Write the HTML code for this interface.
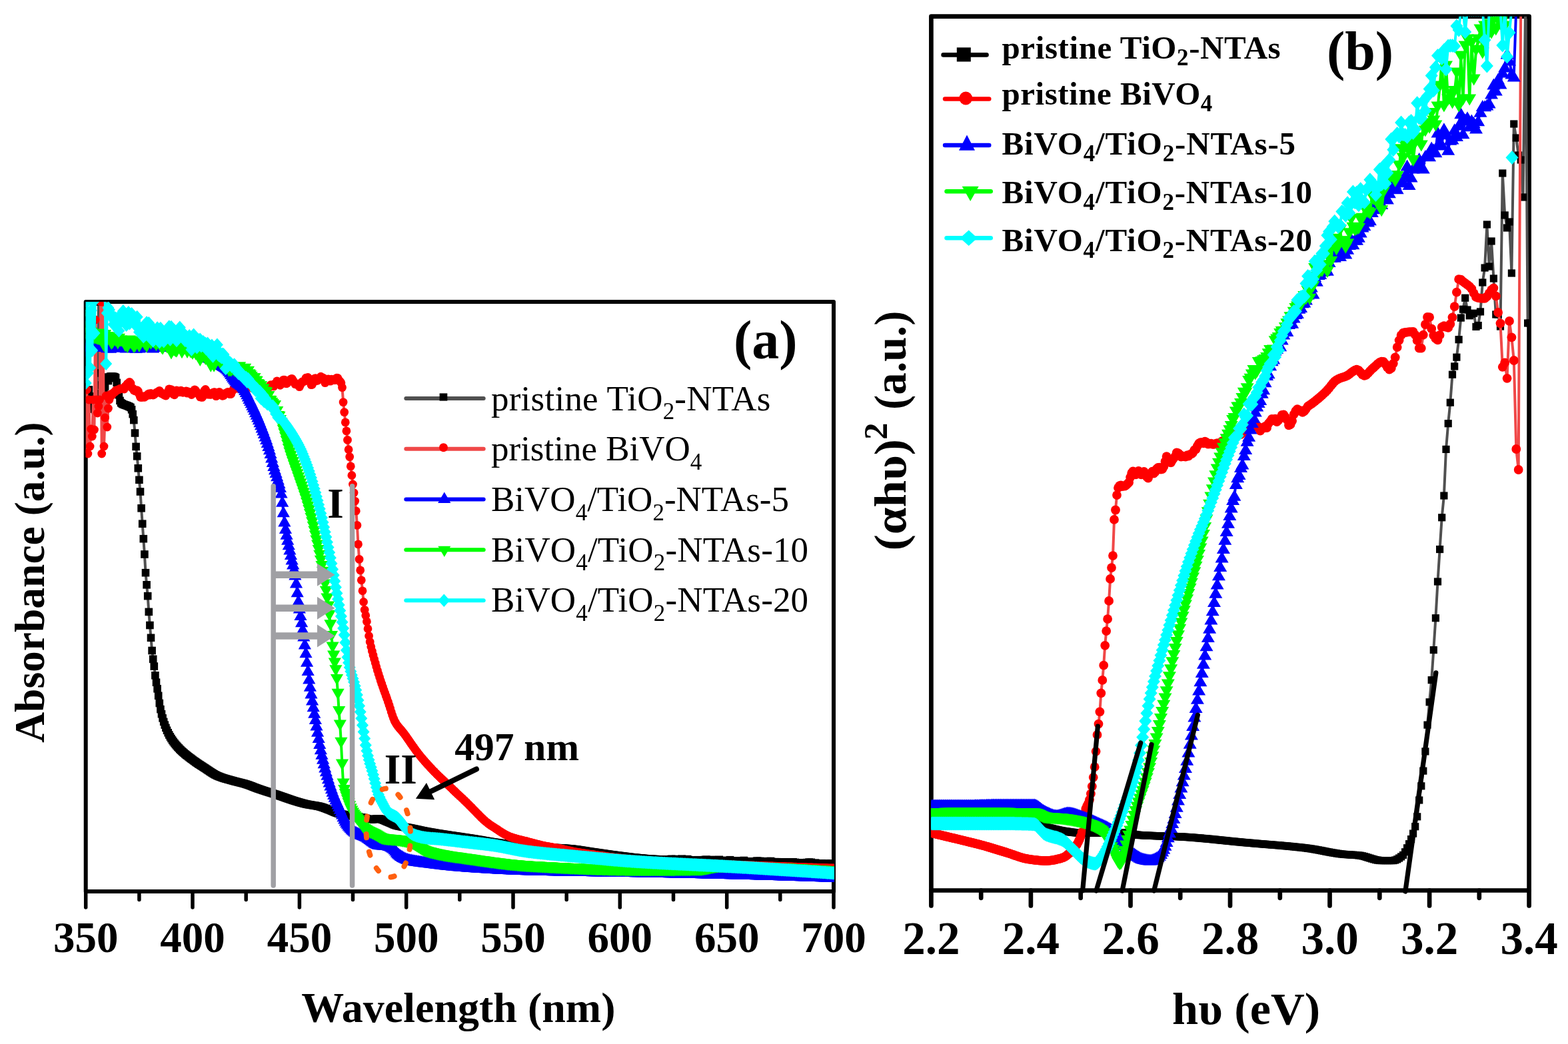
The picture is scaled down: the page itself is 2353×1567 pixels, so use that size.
<!DOCTYPE html>
<html><head><meta charset="utf-8"><title>UV-vis absorbance and Tauc plots</title>
<style>html,body{margin:0;padding:0;background:#fff;overflow:hidden}svg{display:block}
text{font-family:"Liberation Serif","Times New Roman",serif}</style></head>
<body><svg width="2353" height="1567" viewBox="0 0 2353 1567">
<defs><marker id="sqa" markerUnits="userSpaceOnUse" markerWidth="40" markerHeight="40" viewBox="-20 -20 40 40" refX="0" refY="0" overflow="visible"><rect x="-5.8" y="-5.8" width="11.6" height="11.6" fill="#000"/></marker><marker id="cia" markerUnits="userSpaceOnUse" markerWidth="40" markerHeight="40" viewBox="-20 -20 40 40" refX="0" refY="0" overflow="visible"><circle r="6.4" fill="#f00"/></marker><marker id="tua" markerUnits="userSpaceOnUse" markerWidth="40" markerHeight="40" viewBox="-20 -20 40 40" refX="0" refY="0" overflow="visible"><path d="M0-8.5L9.6 8.3H-9.6Z" fill="#00f"/></marker><marker id="tda" markerUnits="userSpaceOnUse" markerWidth="40" markerHeight="40" viewBox="-20 -20 40 40" refX="0" refY="0" overflow="visible"><path d="M0 8.5L9.6-8.3H-9.6Z" fill="#0f0"/></marker><marker id="dia" markerUnits="userSpaceOnUse" markerWidth="40" markerHeight="40" viewBox="-20 -20 40 40" refX="0" refY="0" overflow="visible"><path d="M0-10L9 0L0 10L-9 0Z" fill="#0ff"/></marker><marker id="sqb" markerUnits="userSpaceOnUse" markerWidth="40" markerHeight="40" viewBox="-20 -20 40 40" refX="0" refY="0" overflow="visible"><rect x="-5.6" y="-5.6" width="11.2" height="11.2" fill="#000"/></marker><marker id="cib" markerUnits="userSpaceOnUse" markerWidth="40" markerHeight="40" viewBox="-20 -20 40 40" refX="0" refY="0" overflow="visible"><circle r="6.9" fill="#f00"/></marker><marker id="tub" markerUnits="userSpaceOnUse" markerWidth="40" markerHeight="40" viewBox="-20 -20 40 40" refX="0" refY="0" overflow="visible"><path d="M0-8.5L10 8.5H-10Z" fill="#00f"/></marker><marker id="tdb" markerUnits="userSpaceOnUse" markerWidth="40" markerHeight="40" viewBox="-20 -20 40 40" refX="0" refY="0" overflow="visible"><path d="M0 8.5L10-8.5H-10Z" fill="#0f0"/></marker><marker id="dib" markerUnits="userSpaceOnUse" markerWidth="40" markerHeight="40" viewBox="-20 -20 40 40" refX="0" refY="0" overflow="visible"><path d="M0-10.5L9.5 0L0 10.5L-9.5 0Z" fill="#0ff"/></marker>
<clipPath id="ca"><rect x="128.7" y="453.0" width="1123.3" height="885.0"/></clipPath>
<clipPath id="cb"><rect x="1397.4" y="24.7" width="898.1999999999998" height="1311.8"/></clipPath>
</defs>
<rect width="2353" height="1567" fill="#fff"/>
<rect x="128.7" y="453.0" width="1122.3" height="885.0" fill="none" stroke="#000" stroke-width="6" stroke-linejoin="round"/>
<rect x="1397.4" y="24.7" width="897.1999999999998" height="1311.8" fill="none" stroke="#000" stroke-width="6.7" stroke-linejoin="round"/>
<path d="M128.7 1338.0V1362.0M208.9 1338.0V1350.5M289.0 1338.0V1362.0M369.2 1338.0V1350.5M449.4 1338.0V1362.0M529.5 1338.0V1350.5M609.7 1338.0V1362.0M689.8 1338.0V1350.5M770.0 1338.0V1362.0M850.2 1338.0V1350.5M930.3 1338.0V1362.0M1010.5 1338.0V1350.5M1090.7 1338.0V1362.0M1170.8 1338.0V1350.5M1251.0 1338.0V1362.0" stroke="#000" stroke-width="5.5" stroke-linecap="round" fill="none"/>
<path d="M1397.4 1336.5V1359.5M1472.2 1336.5V1347.8M1546.9 1336.5V1359.5M1621.7 1336.5V1347.8M1696.5 1336.5V1359.5M1771.2 1336.5V1347.8M1846.0 1336.5V1359.5M1920.8 1336.5V1347.8M1995.5 1336.5V1359.5M2070.3 1336.5V1347.8M2145.1 1336.5V1359.5M2219.8 1336.5V1347.8M2294.6 1336.5V1359.5" stroke="#000" stroke-width="6.7" stroke-linecap="round" fill="none"/>
<text x="128.7" y="1428.6" font-size="65" font-weight="bold" text-anchor="middle">350</text>
<text x="289.0" y="1428.6" font-size="65" font-weight="bold" text-anchor="middle">400</text>
<text x="449.4" y="1428.6" font-size="65" font-weight="bold" text-anchor="middle">450</text>
<text x="609.7" y="1428.6" font-size="65" font-weight="bold" text-anchor="middle">500</text>
<text x="770.0" y="1428.6" font-size="65" font-weight="bold" text-anchor="middle">550</text>
<text x="930.3" y="1428.6" font-size="65" font-weight="bold" text-anchor="middle">600</text>
<text x="1090.7" y="1428.6" font-size="65" font-weight="bold" text-anchor="middle">650</text>
<text x="1251.0" y="1428.6" font-size="65" font-weight="bold" text-anchor="middle">700</text>
<text x="1397.4" y="1432.3" font-size="69" font-weight="bold" text-anchor="middle">2.2</text>
<text x="1546.9" y="1432.3" font-size="69" font-weight="bold" text-anchor="middle">2.4</text>
<text x="1696.5" y="1432.3" font-size="69" font-weight="bold" text-anchor="middle">2.6</text>
<text x="1846.0" y="1432.3" font-size="69" font-weight="bold" text-anchor="middle">2.8</text>
<text x="1995.5" y="1432.3" font-size="69" font-weight="bold" text-anchor="middle">3.0</text>
<text x="2145.1" y="1432.3" font-size="69" font-weight="bold" text-anchor="middle">3.2</text>
<text x="2294.6" y="1432.3" font-size="69" font-weight="bold" text-anchor="middle">3.4</text>
<text x="687.9" y="1534" font-size="64" font-weight="bold" text-anchor="middle">Wavelength (nm)</text>
<text x="0" y="0" font-size="63.5" font-weight="bold" text-anchor="middle" transform="translate(65.5 874) rotate(-90)">Absorbance (a.u.)</text>
<text x="1870.1" y="1536.9" font-size="67" font-weight="bold" text-anchor="middle" textLength="222" lengthAdjust="spacingAndGlyphs">h&#965; (eV)</text>
<g transform="translate(1359.2 0) rotate(-90)"><text x="-826.5" y="0" font-size="67" font-weight="bold" text-anchor="start" textLength="167.5" lengthAdjust="spacingAndGlyphs">(&#945;h&#965;)</text><text x="-660" y="-28" font-size="51" font-weight="bold" text-anchor="start">2</text><text x="-615" y="0" font-size="67" font-weight="bold" text-anchor="start" textLength="148.5" lengthAdjust="spacingAndGlyphs">(a.u.)</text></g>
<text x="1148.7" y="538.4" font-size="82" font-weight="bold" text-anchor="middle">(a)</text>
<text x="2041" y="104.2" font-size="82" font-weight="bold" text-anchor="middle">(b)</text>
<g clip-path="url(#ca)"><polyline fill="none" stroke="#505050" stroke-width="4" stroke-linejoin="round" points="128.7,600 130.3,590 131.9,605 133.5,585 135.1,600 136.7,595 138.3,610 139.9,600 141.5,614 143.1,616 144.7,616 146.3,614 147.9,453 149.5,560 151.1,591 152.7,578 154.4,570 156,585 157.6,580 159.2,571 160.8,566 162.4,571.6 164,567.7 165.6,565.1 167.2,565 168.8,565.1 170.4,565.4 172,565.7 173.6,566.9 175.2,574.4 176.8,584 178.4,592.8 180,601.4 181.6,604.6 183.2,605.9 184.8,606.8 186.4,607.4 188,608 189.6,608.5 191.2,609.1 192.8,609.9 194.4,610.5 196,611.5 197.6,614.8 199.2,621.6 200.8,630.6 202.5,650 204.1,670.4 205.7,684.8 207.3,702.8 208.9,720.3 210.5,738 212.1,762.8 213.7,786.2 215.3,808.7 216.9,832 218.5,859.7 220.1,877.8 221.7,894.6 223.3,918.4 224.9,938.5 226.5,957.3 228.1,976.5 229.7,989.3 231.3,1000.1 232.9,1013.8 234.5,1024.2 236.1,1033.8 237.7,1044.3 239.3,1055.5 240.9,1064.6 242.5,1071.7 244.1,1077.9 245.7,1083.4 247.3,1088.1 248.9,1092.4 250.5,1096.3 252.2,1099.8 253.8,1103 255.4,1105.9 257,1108.5 258.6,1111 260.2,1113.3 261.8,1115.4 263.4,1117.4 265,1119.3 266.6,1121.1 268.2,1122.8 269.8,1124.5 271.4,1126.1 273,1127.6 274.6,1129 276.2,1130.4 277.8,1131.8 279.4,1133.1 281,1134.3 282.6,1135.6 284.2,1136.8 285.8,1138 287.4,1139.2 289,1140.4 290.6,1141.6 292.2,1142.7 293.8,1143.9 295.4,1145 297,1146.1 298.6,1147.2 300.3,1148.2 301.9,1149.3 303.5,1150.3 305.1,1151.4 306.7,1152.4 308.3,1153.4 309.9,1154.5 311.5,1155.6 313.1,1156.6 314.7,1157.7 316.3,1158.8 317.9,1159.8 319.5,1160.8 321.1,1161.8 322.7,1162.7 324.3,1163.5 325.9,1164.3 327.5,1165 329.1,1165.6 330.7,1166.2 332.3,1166.8 333.9,1167.4 335.5,1167.9 337.1,1168.4 338.7,1168.9 340.3,1169.3 341.9,1169.8 343.5,1170.2 345.1,1170.7 346.7,1171.1 348.4,1171.6 350,1172 351.6,1172.5 353.2,1172.9 354.8,1173.3 356.4,1173.7 358,1174.1 359.6,1174.5 361.2,1174.9 362.8,1175.3 364.4,1175.7 366,1176.1 367.6,1176.6 369.2,1177.1 370.8,1177.6 372.4,1178.1 374,1178.7 375.6,1179.3 377.2,1179.9 378.8,1180.5 380.4,1181.2 382,1181.8 383.6,1182.4 385.2,1183 386.8,1183.6 388.4,1184.1 390,1184.7 391.6,1185.2 393.2,1185.8 394.8,1186.3 396.4,1186.8 398.1,1187.4 399.7,1187.9 401.3,1188.4 402.9,1188.9 404.5,1189.4 406.1,1189.9 407.7,1190.4 409.3,1190.9 410.9,1191.5 412.5,1192 414.1,1192.5 415.7,1193 417.3,1193.6 418.9,1194.1 420.5,1194.7 422.1,1195.2 423.7,1195.8 425.3,1196.3 426.9,1196.9 428.5,1197.5 430.1,1198 431.7,1198.6 433.3,1199.1 434.9,1199.7 436.5,1200.2 438.1,1200.8 439.7,1201.3 441.3,1201.8 442.9,1202.3 444.5,1202.8 446.2,1203.3 447.8,1203.8 449.4,1204.3 451,1204.7 452.6,1205.2 454.2,1205.6 455.8,1206 457.4,1206.4 459,1206.8 460.6,1207.1 462.2,1207.5 463.8,1207.7 465.4,1208 467,1208.3 468.6,1208.5 470.2,1208.8 471.8,1209 473.4,1209.3 475,1209.6 476.6,1209.9 478.2,1210.2 479.8,1210.6 481.4,1211 483,1211.5 484.6,1212 486.2,1212.6 487.8,1213.2 489.4,1213.8 491,1214.4 492.6,1215 494.2,1215.6 495.9,1216.3 497.5,1217 499.1,1217.7 500.7,1218.4 502.3,1219.1 503.9,1219.7 505.5,1220.3 507.1,1220.8 508.7,1221.2 510.3,1221.5 511.9,1221.9 513.5,1222.2 515.1,1222.5 516.7,1222.8 518.3,1223.1 519.9,1223.4 521.5,1223.6 523.1,1223.9 524.7,1224.1 526.3,1224.4 527.9,1224.6 529.5,1224.9 531.1,1225.2 532.7,1225.5 534.3,1225.7 535.9,1225.9 537.5,1226.2 539.1,1226.4 540.7,1226.7 542.3,1226.9 544,1227.2 545.6,1227.5 547.2,1227.8 548.8,1228.2 550.4,1228.8 552,1229.4 553.6,1229.8 555.2,1230 556.8,1229.9 558.4,1229.8 560,1229.7 561.6,1229.5 563.2,1229.3 564.8,1229.2 566.4,1229 568,1229 569.6,1229.1 571.2,1229.4 572.8,1229.9 574.4,1230.5 576,1231.1 577.6,1231.8 579.2,1232.6 580.8,1233.2 582.4,1233.9 584,1234.5 585.6,1235.2 587.2,1235.9 588.8,1236.6 590.4,1237.4 592,1238 593.7,1238.6 595.3,1239.1 596.9,1239.5 598.5,1239.9 600.1,1240.2 601.7,1240.5 603.3,1240.8 604.9,1241.1 606.5,1241.4 608.1,1241.6 609.7,1241.9 611.3,1242.2 612.9,1242.4 614.5,1242.7 616.1,1243 617.7,1243.3 619.3,1243.7 620.9,1244 622.5,1244.3 624.1,1244.7 625.7,1245 627.3,1245.4 628.9,1245.7 630.5,1246.1 632.1,1246.4 633.7,1246.8 635.3,1247.1 636.9,1247.4 638.5,1247.7 640.1,1248 641.8,1248.3 643.4,1248.6 645,1248.9 646.6,1249.2 648.2,1249.4 649.8,1249.7 651.4,1250 653,1250.3 654.6,1250.5 656.2,1250.8 657.8,1251 659.4,1251.3 661,1251.5 662.6,1251.8 664.2,1252.1 665.8,1252.3 667.4,1252.5 669,1252.8 670.6,1253 672.2,1253.3 673.8,1253.5 675.4,1253.8 677,1254 678.6,1254.2 680.2,1254.5 681.8,1254.7 683.4,1254.9 685,1255.2 686.6,1255.4 688.2,1255.6 689.8,1255.9 691.5,1256.1 693.1,1256.4 694.7,1256.6 696.3,1256.8 697.9,1257.1 699.5,1257.3 701.1,1257.6 702.7,1257.8 704.3,1258 705.9,1258.3 707.5,1258.5 709.1,1258.8 710.7,1259 712.3,1259.3 713.9,1259.6 715.5,1259.8 717.1,1260.1 718.7,1260.4 720.3,1260.6 721.9,1260.9 723.5,1261.2 725.1,1261.5 726.7,1261.8 728.3,1262 729.9,1262.3 731.5,1262.6 733.1,1262.9 734.7,1263.2 736.3,1263.4 737.9,1263.7 739.6,1263.9 741.2,1264.2 742.8,1264.4 744.4,1264.6 746,1264.9 747.6,1265.1 749.2,1265.3 750.8,1265.5 752.4,1265.8 754,1266 755.6,1266.2 757.2,1266.4 758.8,1266.6 760.4,1266.8 762,1267 763.6,1267.2 765.2,1267.4 766.8,1267.6 768.4,1267.8 770,1268 771.6,1268.2 773.2,1268.4 774.8,1268.6 776.4,1268.8 778,1269 779.6,1269.2 781.2,1269.3 782.8,1269.5 784.4,1269.7 786,1269.9 787.7,1270 789.3,1270.2 790.9,1270.3 792.5,1270.5 794.1,1270.6 795.7,1270.7 797.3,1270.8 798.9,1270.9 800.5,1271 802.1,1271.1 803.7,1271.2 805.3,1271.3 806.9,1271.4 808.5,1271.4 810.1,1271.5 811.7,1271.6 813.3,1271.7 814.9,1271.7 816.5,1271.8 818.1,1271.9 819.7,1271.9 821.3,1272 822.9,1272.1 824.5,1272.2 826.1,1272.2 827.7,1272.3 829.3,1272.4 830.9,1272.4 832.5,1272.5 834.1,1272.6 835.7,1272.6 837.4,1272.7 839,1272.8 840.6,1272.9 842.2,1273 843.8,1273.1 845.4,1273.2 847,1273.3 848.6,1273.4 850.2,1273.5 851.8,1273.6 853.4,1273.8 855,1273.9 856.6,1274 858.2,1274.2 859.8,1274.4 861.4,1274.6 863,1274.8 864.6,1275 866.2,1275.2 867.8,1275.5 869.4,1275.7 871,1276 872.6,1276.2 874.2,1276.5 875.8,1276.7 877.4,1277 879,1277.2 880.6,1277.5 882.2,1277.7 883.8,1278 885.5,1278.2 887.1,1278.5 888.7,1278.7 890.3,1278.9 891.9,1279.1 893.5,1279.4 895.1,1279.6 896.7,1279.8 898.3,1280.1 899.9,1280.3 901.5,1280.5 903.1,1280.8 904.7,1281 906.3,1281.2 907.9,1281.5 909.5,1281.7 911.1,1281.9 912.7,1282.1 914.3,1282.4 915.9,1282.6 917.5,1282.8 919.1,1283 920.7,1283.2 922.3,1283.4 923.9,1283.7 925.5,1283.9 927.1,1284.1 928.7,1284.3 930.3,1284.5 931.9,1284.7 933.5,1284.9 935.2,1285.1 936.8,1285.3 938.4,1285.5 940,1285.7 941.6,1285.9 943.2,1286.1 944.8,1286.3 946.4,1286.5 948,1286.7 949.6,1286.8 951.2,1287 952.8,1287.2 954.4,1287.3 956,1287.5 957.6,1287.7 959.2,1287.8 960.8,1288 962.4,1288.1 964,1288.3 965.6,1288.4 967.2,1288.6 968.8,1288.7 970.4,1288.9 972,1289 973.6,1289.1 975.2,1289.2 976.8,1289.3 978.4,1289.4 980,1289.5 981.6,1289.6 983.3,1289.6 984.9,1289.7 986.5,1289.8 988.1,1289.8 989.7,1289.9 991.3,1289.9 992.9,1290 994.5,1290 996.1,1290.1 997.7,1290.1 999.3,1290.2 1000.9,1289.8 1002.5,1291 1004.1,1290.7 1005.7,1290.5 1007.3,1289.4 1008.9,1289.6 1010.5,1290.4 1012.1,1290.5 1013.7,1289.5 1015.3,1291.9 1016.9,1290.7 1018.5,1290.5 1020.1,1291.1 1021.7,1290.1 1023.3,1289.2 1024.9,1290.6 1026.5,1290.2 1028.1,1290.8 1029.7,1291 1031.3,1289.6 1033,1290.3 1034.6,1291.6 1036.2,1292.1 1037.8,1290.9 1039.4,1291.1 1041,1291.3 1042.6,1291.3 1044.2,1292.7 1045.8,1292.5 1047.4,1290.7 1049,1291 1050.6,1292.2 1052.2,1291.8 1053.8,1292.1 1055.4,1291.9 1057,1290.7 1058.6,1290.4 1060.2,1290.3 1061.8,1291 1063.4,1291.9 1065,1291.1 1066.6,1293.2 1068.2,1290.4 1069.8,1291.5 1071.4,1292.5 1073,1293.2 1074.6,1291 1076.2,1292.1 1077.8,1292.4 1079.4,1290.3 1081.1,1292.6 1082.7,1292.1 1084.3,1291.7 1085.9,1292.8 1087.5,1292.2 1089.1,1291.5 1090.7,1293.3 1092.3,1291.7 1093.9,1293.3 1095.5,1290.7 1097.1,1293.1 1098.7,1292.1 1100.3,1292.7 1101.9,1292.6 1103.5,1293.3 1105.1,1291.9 1106.7,1292.4 1108.3,1292.4 1109.9,1293.1 1111.5,1292.7 1113.1,1293 1114.7,1293.1 1116.3,1291.5 1117.9,1292.7 1119.5,1293 1121.1,1293.2 1122.7,1294.6 1124.3,1293.7 1125.9,1294.2 1127.5,1292.8 1129.2,1293.9 1130.8,1294.7 1132.4,1293 1134,1292.9 1135.6,1292.2 1137.2,1292.4 1138.8,1294.8 1140.4,1292.4 1142,1293.5 1143.6,1294.2 1145.2,1293.8 1146.8,1293.9 1148.4,1293.7 1150,1294.6 1151.6,1292.7 1153.2,1293.6 1154.8,1293.9 1156.4,1292.5 1158,1293.5 1159.6,1293.9 1161.2,1295.3 1162.8,1293.7 1164.4,1295.2 1166,1293.7 1167.6,1295.7 1169.2,1294 1170.8,1295.3 1172.4,1296 1174,1295.3 1175.6,1295.7 1177.2,1293.8 1178.9,1295.1 1180.5,1295.3 1182.1,1294.6 1183.7,1295 1185.3,1294 1186.9,1294.5 1188.5,1294 1190.1,1293.8 1191.7,1295.6 1193.3,1294.4 1194.9,1295.4 1196.5,1296.7 1198.1,1296.1 1199.7,1294.8 1201.3,1295.1 1202.9,1294.9 1204.5,1295.4 1206.1,1296.9 1207.7,1296.9 1209.3,1295.2 1210.9,1294.6 1212.5,1296.6 1214.1,1294.1 1215.7,1296.3 1217.3,1294.3 1218.9,1296.2 1220.5,1296.1 1222.1,1295.7 1223.7,1295.2 1225.3,1296.6 1227,1296.5 1228.6,1296.4 1230.2,1297.9 1231.8,1296.2 1233.4,1296 1235,1297.6 1236.6,1298.1 1238.2,1296.1 1239.8,1296.5 1241.4,1296.3 1243,1297 1244.6,1297.4 1246.2,1296.3 1247.8,1296.7 1249.4,1296.2 1251,1297.2" marker-start="url(#sqa)" marker-mid="url(#sqa)" marker-end="url(#sqa)"/>
<polyline fill="none" stroke="#f04848" stroke-width="4" stroke-linejoin="round" points="128.7,680 130.3,585 131.9,681 133.5,600 135.1,670 136.7,644 138.3,655 139.9,600 141.5,645 143.1,480 144.7,600 146.3,620 147.9,610 149.5,600 151.1,453 152.7,681 154.4,453 156,670 157.6,627 159.2,594 160.8,641 162.4,613 164,600 165.6,592 167.2,593.8 168.8,591.9 170.4,589.3 172,588.6 173.6,586 175.2,586.3 176.8,585 178.4,584.8 180,583.5 181.6,583.5 183.2,582.8 184.8,582.9 186.4,584 188,579.7 189.6,580 191.2,576 192.8,575.8 194.4,573.4 196,575.3 197.6,581.6 199.2,582.8 200.8,585.9 202.5,586.7 204.1,587.3 205.7,585.6 207.3,587 208.9,591.7 210.5,596.1 212.1,596.4 213.7,596.2 215.3,594.9 216.9,596.3 218.5,594.3 220.1,593.9 221.7,592.4 223.3,590.9 224.9,593 226.5,590.5 228.1,592.5 229.7,593 231.3,592.2 232.9,590.8 234.5,589.4 236.1,588.5 237.7,588.3 239.3,586.3 240.9,588.9 242.5,590.8 244.1,590.7 245.7,592.4 247.3,593.3 248.9,594 250.5,590.7 252.2,587.9 253.8,583.8 255.4,586.4 257,584.6 258.6,589.5 260.2,591.6 261.8,592.8 263.4,590 265,585.8 266.6,588.9 268.2,588.4 269.8,588.7 271.4,586.2 273,587 274.6,589.3 276.2,588.3 277.8,588.8 279.4,586.9 281,590.1 282.6,587.8 284.2,589.3 285.8,588.7 287.4,592.5 289,590.9 290.6,587.4 292.2,584.9 293.8,586.4 295.4,589.4 297,590.6 298.6,592.4 300.3,595.9 301.9,596 303.5,596.4 305.1,589.5 306.7,586.2 308.3,584.5 309.9,587.6 311.5,592.2 313.1,591.7 314.7,592.1 316.3,592.3 317.9,591.8 319.5,589.4 321.1,588.7 322.7,588.8 324.3,594.7 325.9,592.4 327.5,592.2 329.1,588.3 330.7,590 332.3,592.9 333.9,594.3 335.5,593.6 337.1,590.7 338.7,591 340.3,589.6 341.9,588.4 343.5,589.1 345.1,591.7 346.7,591.4 348.4,587.2 350,584.8 351.6,581.2 353.2,582.3 354.8,581.7 356.4,583.1 358,578 359.6,575.2 361.2,575.4 362.8,578.1 364.4,578.6 366,578.7 367.6,580.1 369.2,580 370.8,578.4 372.4,575.5 374,574.9 375.6,577.4 377.2,580 378.8,582.8 380.4,579.5 382,576.9 383.6,576.3 385.2,577.7 386.8,579.8 388.4,578.8 390,580.7 391.6,583.7 393.2,587.7 394.8,589.4 396.4,586.5 398.1,585.4 399.7,582 401.3,583.5 402.9,581.3 404.5,580.9 406.1,577.7 407.7,578.9 409.3,579.4 410.9,579.9 412.5,575.9 414.1,575 415.7,571.8 417.3,576.2 418.9,575.6 420.5,578.3 422.1,575.5 423.7,572.9 425.3,570.1 426.9,570.1 428.5,575.4 430.1,575.8 431.7,574.5 433.3,571.8 434.9,570.8 436.5,569 438.1,568.3 439.7,571.1 441.3,573.3 442.9,576.6 444.5,576.4 446.2,577.6 447.8,577.6 449.4,580.7 451,577.2 452.6,573.7 454.2,572.6 455.8,572.8 457.4,571.7 459,567.2 460.6,567.1 462.2,566.5 463.8,568.9 465.4,573.2 467,577.6 468.6,577.1 470.2,571.3 471.8,568.4 473.4,567.6 475,571.5 476.6,571.2 478.2,568.5 479.8,568.5 481.4,565.2 483,567 484.6,566.8 486.2,570.8 487.8,574.6 489.4,570.6 491,570.5 492.6,568.9 494.2,571.8 495.9,572.2 497.5,569.1 499.1,570.7 500.7,570.5 502.3,570.7 503.9,568.4 505.5,567.1 507.1,567.7 508.7,571.1 510.3,572.3 511.9,574.8 513.5,581.6 515.1,603.6 516.7,618.6 518.3,633.9 519.9,646.9 521.5,660.4 523.1,674.7 524.7,685.6 526.3,699.9 527.9,713.5 529.5,727 531.1,739.6 532.7,752.1 534.3,766.9 535.9,788.4 537.5,816.9 539.1,839.4 540.7,855.9 542.3,870.8 544,886.8 545.6,903.5 547.2,915.3 548.8,923.8 550.4,932.9 552,943.7 553.6,954.5 555.2,963.4 556.8,970.7 558.4,977.3 560,983.4 561.6,989.3 563.2,995.1 564.8,1000.8 566.4,1006.2 568,1011.5 569.6,1016.6 571.2,1021.6 572.8,1026.4 574.4,1031.1 576,1035.6 577.6,1040 579.2,1044.4 580.8,1048.9 582.4,1053.4 584,1058.2 585.6,1063.3 587.2,1068.5 588.8,1073.5 590.4,1078 592,1081.9 593.7,1084.9 595.3,1087.5 596.9,1089.7 598.5,1091.7 600.1,1093.6 601.7,1095.4 603.3,1097.2 604.9,1099.2 606.5,1101.3 608.1,1103.5 609.7,1105.8 611.3,1108 612.9,1110.3 614.5,1112.6 616.1,1115 617.7,1117.3 619.3,1119.6 620.9,1121.8 622.5,1124.1 624.1,1126.3 625.7,1128.4 627.3,1130.5 628.9,1132.5 630.5,1134.5 632.1,1136.5 633.7,1138.4 635.3,1140.3 636.9,1142.1 638.5,1144 640.1,1145.8 641.8,1147.6 643.4,1149.3 645,1151.1 646.6,1152.8 648.2,1154.5 649.8,1156.2 651.4,1157.9 653,1159.5 654.6,1161.1 656.2,1162.7 657.8,1164.3 659.4,1165.8 661,1167.4 662.6,1168.9 664.2,1170.4 665.8,1171.9 667.4,1173.4 669,1174.9 670.6,1176.4 672.2,1177.9 673.8,1179.4 675.4,1181 677,1182.5 678.6,1184 680.2,1185.6 681.8,1187.1 683.4,1188.6 685,1190.2 686.6,1191.7 688.2,1193.2 689.8,1194.7 691.5,1196.3 693.1,1197.8 694.7,1199.3 696.3,1200.9 697.9,1202.4 699.5,1203.9 701.1,1205.5 702.7,1207 704.3,1208.6 705.9,1210.2 707.5,1211.9 709.1,1213.5 710.7,1215.2 712.3,1216.8 713.9,1218.5 715.5,1220.1 717.1,1221.8 718.7,1223.4 720.3,1225 721.9,1226.6 723.5,1228.1 725.1,1229.6 726.7,1231.1 728.3,1232.5 729.9,1233.8 731.5,1235.1 733.1,1236.4 734.7,1237.5 736.3,1238.6 737.9,1239.7 739.6,1240.7 741.2,1241.7 742.8,1242.8 744.4,1243.9 746,1244.9 747.6,1246 749.2,1247.1 750.8,1248.1 752.4,1249.1 754,1250.1 755.6,1251.1 757.2,1252 758.8,1252.9 760.4,1253.7 762,1254.5 763.6,1255.2 765.2,1255.9 766.8,1256.5 768.4,1257 770,1257.6 771.6,1258 773.2,1258.5 774.8,1259 776.4,1259.4 778,1259.8 779.6,1260.2 781.2,1260.6 782.8,1261 784.4,1261.4 786,1261.8 787.7,1262.1 789.3,1262.5 790.9,1263 792.5,1263.4 794.1,1263.8 795.7,1264.3 797.3,1264.7 798.9,1265.1 800.5,1265.6 802.1,1266 803.7,1266.4 805.3,1266.8 806.9,1267.2 808.5,1267.6 810.1,1268 811.7,1268.4 813.3,1268.8 814.9,1269.2 816.5,1269.5 818.1,1269.8 819.7,1270.1 821.3,1270.4 822.9,1270.7 824.5,1271 826.1,1271.3 827.7,1271.5 829.3,1271.8 830.9,1272.1 832.5,1272.3 834.1,1272.6 835.7,1272.9 837.4,1273.1 839,1273.4 840.6,1273.7 842.2,1274 843.8,1274.4 845.4,1274.7 847,1275.1 848.6,1275.4 850.2,1275.8 851.8,1276.2 853.4,1276.6 855,1277 856.6,1277.3 858.2,1277.6 859.8,1278 861.4,1278.3 863,1278.6 864.6,1278.8 866.2,1279.1 867.8,1279.4 869.4,1279.6 871,1279.9 872.6,1280.2 874.2,1280.4 875.8,1280.7 877.4,1280.9 879,1281.1 880.6,1281.4 882.2,1281.6 883.8,1281.8 885.5,1282.1 887.1,1282.3 888.7,1282.5 890.3,1282.7 891.9,1283 893.5,1283.2 895.1,1283.4 896.7,1283.7 898.3,1283.9 899.9,1284.1 901.5,1284.3 903.1,1284.5 904.7,1284.8 906.3,1285 907.9,1285.2 909.5,1285.4 911.1,1285.6 912.7,1285.9 914.3,1286.1 915.9,1286.3 917.5,1286.5 919.1,1286.7 920.7,1286.9 922.3,1287.1 923.9,1287.3 925.5,1287.5 927.1,1287.7 928.7,1287.9 930.3,1288 931.9,1288.2 933.5,1288.4 935.2,1288.6 936.8,1288.7 938.4,1288.9 940,1289.1 941.6,1289.2 943.2,1289.4 944.8,1289.5 946.4,1289.7 948,1289.8 949.6,1290 951.2,1290.1 952.8,1290.2 954.4,1290.4 956,1290.5 957.6,1290.6 959.2,1290.7 960.8,1290.9 962.4,1291 964,1291.1 965.6,1291.2 967.2,1291.3 968.8,1291.5 970.4,1291.6 972,1291.7 973.6,1291.8 975.2,1291.9 976.8,1292 978.4,1292.1 980,1292.2 981.6,1292.3 983.3,1292.4 984.9,1292.5 986.5,1292.6 988.1,1292.7 989.7,1292.8 991.3,1292.9 992.9,1293 994.5,1293.1 996.1,1293.2 997.7,1293.3 999.3,1293.4 1000.9,1293.5 1002.5,1293.6 1004.1,1293.7 1005.7,1293.8 1007.3,1293.8 1008.9,1293.9 1010.5,1294 1012.1,1294.1 1013.7,1294.2 1015.3,1294.3 1016.9,1294.4 1018.5,1294.4 1020.1,1294.5 1021.7,1294.6 1023.3,1294.7 1024.9,1294.8 1026.5,1294.8 1028.1,1294.9 1029.7,1295 1031.3,1295.1 1033,1295.2 1034.6,1295.2 1036.2,1295.3 1037.8,1295.4 1039.4,1295.5 1041,1295.5 1042.6,1295.6 1044.2,1295.7 1045.8,1295.8 1047.4,1295.8 1049,1295.9 1050.6,1296 1052.2,1296.1 1053.8,1296.1 1055.4,1296.2 1057,1296.3 1058.6,1296.3 1060.2,1296.4 1061.8,1296.5 1063.4,1296.5 1065,1296.6 1066.6,1296.7 1068.2,1296.7 1069.8,1296.8 1071.4,1296.9 1073,1296.9 1074.6,1297 1076.2,1297 1077.8,1297.1 1079.4,1297.2 1081.1,1297.2 1082.7,1297.3 1084.3,1297.4 1085.9,1297.4 1087.5,1297.5 1089.1,1297.5 1090.7,1297.6 1092.3,1297.7 1093.9,1297.7 1095.5,1297.8 1097.1,1297.8 1098.7,1297.9 1100.3,1297.9 1101.9,1298 1103.5,1298.1 1105.1,1298.1 1106.7,1298.2 1108.3,1298.2 1109.9,1298.3 1111.5,1298.3 1113.1,1298.4 1114.7,1298.5 1116.3,1298.5 1117.9,1298.6 1119.5,1298.6 1121.1,1298.7 1122.7,1298.7 1124.3,1298.8 1125.9,1298.9 1127.5,1298.9 1129.2,1299 1130.8,1299 1132.4,1299.1 1134,1299.1 1135.6,1299.2 1137.2,1299.3 1138.8,1299.3 1140.4,1299.4 1142,1299.4 1143.6,1299.5 1145.2,1299.5 1146.8,1299.6 1148.4,1299.7 1150,1299.7 1151.6,1299.8 1153.2,1299.8 1154.8,1299.9 1156.4,1299.9 1158,1300 1159.6,1300 1161.2,1300.1 1162.8,1300.2 1164.4,1300.2 1166,1300.3 1167.6,1300.3 1169.2,1300.4 1170.8,1300.4 1172.4,1300.5 1174,1300.5 1175.6,1300.6 1177.2,1300.6 1178.9,1300.7 1180.5,1300.8 1182.1,1300.8 1183.7,1300.9 1185.3,1300.9 1186.9,1301 1188.5,1301 1190.1,1301.1 1191.7,1301.1 1193.3,1301.2 1194.9,1301.2 1196.5,1301.3 1198.1,1301.3 1199.7,1301.4 1201.3,1301.4 1202.9,1301.5 1204.5,1301.6 1206.1,1301.6 1207.7,1301.7 1209.3,1301.7 1210.9,1301.8 1212.5,1301.8 1214.1,1301.9 1215.7,1301.9 1217.3,1302 1218.9,1302 1220.5,1302.1 1222.1,1302.1 1223.7,1302.2 1225.3,1302.2 1227,1302.3 1228.6,1302.3 1230.2,1302.4 1231.8,1302.4 1233.4,1302.5 1235,1302.5 1236.6,1302.6 1238.2,1302.6 1239.8,1302.7 1241.4,1302.7 1243,1302.8 1244.6,1302.8 1246.2,1302.9 1247.8,1302.9 1249.4,1303 1251,1303" marker-start="url(#cia)" marker-mid="url(#cia)" marker-end="url(#cia)"/>
<polyline fill="none" stroke="#00f" stroke-width="4" stroke-linejoin="round" points="128.7,527 130.3,520 131.9,480 133.5,470 135.1,478 136.7,500 138.3,510 139.9,515 141.5,519 143.1,519 144.7,519 146.3,519 147.9,519 149.5,519 151.1,518.7 152.7,517.3 154.4,519.7 156,519.1 157.6,519.3 159.2,517.2 160.8,521 162.4,519.2 164,518.5 165.6,521.4 167.2,518.9 168.8,517.3 170.4,518.5 172,516.6 173.6,520.3 175.2,518.5 176.8,518.1 178.4,520.3 180,517 181.6,519.6 183.2,516.6 184.8,518.2 186.4,517.6 188,520.8 189.6,521.1 191.2,518.6 192.8,520 194.4,518.8 196,519.7 197.6,518.1 199.2,516.9 200.8,516.8 202.5,519.5 204.1,521.4 205.7,519.3 207.3,518.4 208.9,521.3 210.5,519.3 212.1,519.1 213.7,519.3 215.3,518.8 216.9,518.6 218.5,517.3 220.1,519.6 221.7,518.9 223.3,520.4 224.9,518.6 226.5,516.7 228.1,518.9 229.7,521.1 231.3,519 232.9,519 234.5,519.1 236.1,519.1 237.7,519.1 239.3,519.1 240.9,519.2 242.5,519.2 244.1,519.2 245.7,519.3 247.3,519.3 248.9,519.4 250.5,519.4 252.2,519.5 253.8,519.5 255.4,519.6 257,519.7 258.6,519.7 260.2,519.8 261.8,519.9 263.4,519.9 265,520 266.6,520.1 268.2,520.2 269.8,520.3 271.4,520.5 273,520.7 274.6,520.9 276.2,521.2 277.8,521.4 279.4,521.7 281,522 282.6,522.3 284.2,522.7 285.8,523 287.4,523.4 289,523.8 290.6,524.2 292.2,524.6 293.8,525.2 295.4,525.8 297,526.5 298.6,527.3 300.3,528.1 301.9,529 303.5,529.9 305.1,530.8 306.7,531.8 308.3,532.8 309.9,533.8 311.5,534.8 313.1,535.8 314.7,536.8 316.3,537.8 317.9,538.8 319.5,539.7 321.1,540.6 322.7,541.5 324.3,542.3 325.9,543.1 327.5,544 329.1,544.8 330.7,545.7 332.3,546.6 333.9,547.6 335.5,548.6 337.1,549.8 338.7,551 340.3,552.3 341.9,553.9 343.5,556 345.1,558.2 346.7,560.7 348.4,563.2 350,565.6 351.6,567.9 353.2,570 354.8,571.8 356.4,573.1 358,574.2 359.6,575.3 361.2,576.4 362.8,577.8 364.4,579.6 366,582 367.6,584.8 369.2,587.8 370.8,591 372.4,594.3 374,597.6 375.6,600.8 377.2,604 378.8,607.4 380.4,610.8 382,614.3 383.6,617.9 385.2,621.5 386.8,625.2 388.4,629 390,633 391.6,637 393.2,641.1 394.8,645.3 396.4,649.7 398.1,654.2 399.7,658.8 401.3,663.6 402.9,668.6 404.5,673.9 406.1,679.7 407.7,686.1 409.3,692.6 410.9,698.6 412.5,703.9 414.1,708.8 415.7,713.9 417.3,719.3 418.9,724.6 420.5,730.8 422.1,739.2 423.7,752.4 425.3,767.9 426.9,782.1 428.5,792.6 430.1,801.5 431.7,809.5 433.3,816.9 434.9,824.2 436.5,831.7 438.1,839.1 439.7,846.1 441.3,853.5 442.9,862.3 444.5,874.1 446.2,888 447.8,900.9 449.4,912.1 451,922.7 452.6,933 454.2,943.5 455.8,954.3 457.4,966.1 459,979 460.6,992.5 462.2,1005.8 463.8,1018.3 465.4,1029.5 467,1040.1 468.6,1050.2 470.2,1060 471.8,1069.5 473.4,1078.8 475,1088.1 476.6,1097.5 478.2,1106.7 479.8,1115.6 481.4,1123.9 483,1131.5 484.6,1138.4 486.2,1145 487.8,1151.1 489.4,1156.9 491,1162.5 492.6,1168 494.2,1173.2 495.9,1178.2 497.5,1183 499.1,1187.5 500.7,1191.7 502.3,1195.5 503.9,1199.1 505.5,1202.6 507.1,1206.1 508.7,1209.7 510.3,1213.5 511.9,1217.4 513.5,1221.2 515.1,1224.9 516.7,1228.3 518.3,1231.3 519.9,1233.9 521.5,1236 523.1,1238.1 524.7,1240 526.3,1241.8 527.9,1243.4 529.5,1244.9 531.1,1246.3 532.7,1247.4 534.3,1248.5 535.9,1249.3 537.5,1250 539.1,1250.7 540.7,1251.3 542.3,1251.8 544,1252.4 545.6,1252.9 547.2,1253.6 548.8,1254.4 550.4,1255.3 552,1256.4 553.6,1257.5 555.2,1258.7 556.8,1259.9 558.4,1261.2 560,1262.3 561.6,1263.4 563.2,1264.4 564.8,1265.3 566.4,1266 568,1266.4 569.6,1266.7 571.2,1266.9 572.8,1267 574.4,1267.2 576,1267.3 577.6,1267.4 579.2,1267.6 580.8,1267.8 582.4,1268.1 584,1268.6 585.6,1269.3 587.2,1270.2 588.8,1271.2 590.4,1272.3 592,1274 593.7,1276 595.3,1278.1 596.9,1280 598.5,1281.3 600.1,1282.5 601.7,1283.6 603.3,1284.6 604.9,1285.6 606.5,1286.4 608.1,1287.2 609.7,1287.9 611.3,1288.5 612.9,1289 614.5,1289.4 616.1,1289.8 617.7,1290.1 619.3,1290.5 620.9,1290.8 622.5,1291.1 624.1,1291.3 625.7,1291.6 627.3,1291.8 628.9,1292.1 630.5,1292.3 632.1,1292.5 633.7,1292.7 635.3,1292.9 636.9,1293.1 638.5,1293.3 640.1,1293.5 641.8,1293.7 643.4,1293.9 645,1294.1 646.6,1294.3 648.2,1294.5 649.8,1294.7 651.4,1295 653,1295.2 654.6,1295.4 656.2,1295.6 657.8,1295.8 659.4,1295.9 661,1296.1 662.6,1296.3 664.2,1296.5 665.8,1296.7 667.4,1296.9 669,1297.1 670.6,1297.3 672.2,1297.4 673.8,1297.6 675.4,1297.8 677,1297.9 678.6,1298.1 680.2,1298.3 681.8,1298.4 683.4,1298.6 685,1298.7 686.6,1298.9 688.2,1299 689.8,1299.2 691.5,1299.3 693.1,1299.5 694.7,1299.6 696.3,1299.7 697.9,1299.8 699.5,1300 701.1,1300.1 702.7,1300.2 704.3,1300.3 705.9,1300.4 707.5,1300.5 709.1,1300.7 710.7,1300.8 712.3,1300.9 713.9,1301 715.5,1301.1 717.1,1301.2 718.7,1301.3 720.3,1301.4 721.9,1301.5 723.5,1301.6 725.1,1301.7 726.7,1301.8 728.3,1301.9 729.9,1302 731.5,1302.1 733.1,1302.2 734.7,1302.3 736.3,1302.4 737.9,1302.5 739.6,1302.6 741.2,1302.7 742.8,1302.8 744.4,1302.9 746,1303 747.6,1303.1 749.2,1303.2 750.8,1303.3 752.4,1303.3 754,1303.4 755.6,1303.5 757.2,1303.6 758.8,1303.7 760.4,1303.7 762,1303.8 763.6,1303.9 765.2,1304 766.8,1304 768.4,1304.1 770,1304.2 771.6,1304.2 773.2,1304.3 774.8,1304.4 776.4,1304.4 778,1304.5 779.6,1304.6 781.2,1304.6 782.8,1304.7 784.4,1304.7 786,1304.8 787.7,1304.8 789.3,1304.9 790.9,1304.9 792.5,1305 794.1,1305 795.7,1305.1 797.3,1305.1 798.9,1305.2 800.5,1305.2 802.1,1305.2 803.7,1305.3 805.3,1305.3 806.9,1305.4 808.5,1305.4 810.1,1305.4 811.7,1305.5 813.3,1305.5 814.9,1305.6 816.5,1305.6 818.1,1305.6 819.7,1305.7 821.3,1305.7 822.9,1305.7 824.5,1305.8 826.1,1305.8 827.7,1305.8 829.3,1305.9 830.9,1305.9 832.5,1305.9 834.1,1306 835.7,1306 837.4,1306 839,1306.1 840.6,1306.1 842.2,1306.1 843.8,1306.1 845.4,1306.2 847,1306.2 848.6,1306.2 850.2,1306.3 851.8,1306.3 853.4,1306.3 855,1306.3 856.6,1306.4 858.2,1306.4 859.8,1306.4 861.4,1306.4 863,1306.5 864.6,1306.5 866.2,1306.5 867.8,1306.5 869.4,1306.6 871,1306.6 872.6,1306.6 874.2,1306.6 875.8,1306.7 877.4,1306.7 879,1306.7 880.6,1306.7 882.2,1306.8 883.8,1306.8 885.5,1306.8 887.1,1306.8 888.7,1306.9 890.3,1306.9 891.9,1306.9 893.5,1306.9 895.1,1307 896.7,1307 898.3,1307 899.9,1307 901.5,1307 903.1,1307.1 904.7,1307.1 906.3,1307.1 907.9,1307.1 909.5,1307.2 911.1,1307.2 912.7,1307.2 914.3,1307.2 915.9,1307.3 917.5,1307.3 919.1,1307.3 920.7,1307.3 922.3,1307.4 923.9,1307.4 925.5,1307.4 927.1,1307.4 928.7,1307.5 930.3,1307.5 931.9,1307.5 933.5,1307.5 935.2,1307.6 936.8,1307.6 938.4,1307.6 940,1307.6 941.6,1307.7 943.2,1307.7 944.8,1307.7 946.4,1307.7 948,1307.8 949.6,1307.8 951.2,1307.8 952.8,1307.9 954.4,1307.9 956,1307.9 957.6,1308 959.2,1308 960.8,1308 962.4,1308 964,1308.1 965.6,1308.1 967.2,1308.1 968.8,1308.2 970.4,1308.2 972,1308.2 973.6,1308.3 975.2,1308.3 976.8,1308.3 978.4,1308.4 980,1308.4 981.6,1308.4 983.3,1308.5 984.9,1308.5 986.5,1308.5 988.1,1308.6 989.7,1308.6 991.3,1308.6 992.9,1308.6 994.5,1308.7 996.1,1308.7 997.7,1308.7 999.3,1308.8 1000.9,1308.8 1002.5,1308.8 1004.1,1308.9 1005.7,1308.9 1007.3,1308.9 1008.9,1309 1010.5,1309 1012.1,1309 1013.7,1309.1 1015.3,1309.1 1016.9,1309.1 1018.5,1309.2 1020.1,1309.2 1021.7,1309.2 1023.3,1309.3 1024.9,1309.3 1026.5,1309.3 1028.1,1309.4 1029.7,1309.4 1031.3,1309.4 1033,1309.5 1034.6,1309.5 1036.2,1309.5 1037.8,1309.6 1039.4,1309.6 1041,1309.6 1042.6,1309.7 1044.2,1309.7 1045.8,1309.7 1047.4,1309.8 1049,1309.8 1050.6,1309.8 1052.2,1309.9 1053.8,1309.9 1055.4,1310 1057,1310 1058.6,1310 1060.2,1310.1 1061.8,1310.1 1063.4,1310.1 1065,1310.2 1066.6,1310.2 1068.2,1310.2 1069.8,1310.3 1071.4,1310.3 1073,1310.4 1074.6,1310.4 1076.2,1310.4 1077.8,1310.5 1079.4,1310.5 1081.1,1310.5 1082.7,1310.6 1084.3,1310.6 1085.9,1310.7 1087.5,1310.7 1089.1,1310.7 1090.7,1310.8 1092.3,1310.8 1093.9,1310.8 1095.5,1310.9 1097.1,1310.9 1098.7,1311 1100.3,1311 1101.9,1311 1103.5,1311.1 1105.1,1311.1 1106.7,1311.2 1108.3,1311.2 1109.9,1311.3 1111.5,1311.3 1113.1,1311.3 1114.7,1311.4 1116.3,1311.4 1117.9,1311.5 1119.5,1311.5 1121.1,1311.5 1122.7,1311.6 1124.3,1311.6 1125.9,1311.7 1127.5,1311.7 1129.2,1311.8 1130.8,1311.8 1132.4,1311.8 1134,1311.9 1135.6,1311.9 1137.2,1312 1138.8,1312 1140.4,1312.1 1142,1312.1 1143.6,1312.2 1145.2,1312.2 1146.8,1312.2 1148.4,1312.3 1150,1312.3 1151.6,1312.4 1153.2,1312.4 1154.8,1312.5 1156.4,1312.5 1158,1312.6 1159.6,1312.6 1161.2,1312.7 1162.8,1312.7 1164.4,1312.7 1166,1312.8 1167.6,1312.8 1169.2,1312.9 1170.8,1312.9 1172.4,1313 1174,1313 1175.6,1313.1 1177.2,1313.1 1178.9,1313.2 1180.5,1313.2 1182.1,1313.3 1183.7,1313.3 1185.3,1313.4 1186.9,1313.4 1188.5,1313.5 1190.1,1313.5 1191.7,1313.6 1193.3,1313.6 1194.9,1313.7 1196.5,1313.7 1198.1,1313.8 1199.7,1313.8 1201.3,1313.9 1202.9,1313.9 1204.5,1314 1206.1,1314 1207.7,1314.1 1209.3,1314.1 1210.9,1314.2 1212.5,1314.2 1214.1,1314.3 1215.7,1314.3 1217.3,1314.4 1218.9,1314.4 1220.5,1314.5 1222.1,1314.5 1223.7,1314.6 1225.3,1314.6 1227,1314.7 1228.6,1314.7 1230.2,1314.8 1231.8,1314.9 1233.4,1314.9 1235,1315 1236.6,1315 1238.2,1315.1 1239.8,1315.1 1241.4,1315.2 1243,1315.2 1244.6,1315.3 1246.2,1315.3 1247.8,1315.4 1249.4,1315.4 1251,1315.5" marker-start="url(#tua)" marker-mid="url(#tua)" marker-end="url(#tua)"/>
<polyline fill="none" stroke="#0f0" stroke-width="4" stroke-linejoin="round" points="128.7,500 130.3,470 131.9,495 133.5,510 135.1,490 136.7,500 138.3,505 139.9,505 141.5,508 143.1,508 144.7,508.6 146.3,509.2 147.9,509.6 149.5,509.9 151.1,501.8 152.7,506.9 154.4,516.3 156,520 157.6,503.3 159.2,514.3 160.8,506.3 162.4,507 164,507 165.6,509.4 167.2,516.6 168.8,515.2 170.4,512.1 172,510 173.6,512 175.2,511.5 176.8,516.1 178.4,509.1 180,512.3 181.6,511.9 183.2,512.3 184.8,514 186.4,513.9 188,519.7 189.6,512.8 191.2,521.4 192.8,512.4 194.4,511.8 196,515 197.6,516.5 199.2,516.3 200.8,521.5 202.5,520.6 204.1,517.2 205.7,512.7 207.3,513.4 208.9,520.4 210.5,514 212.1,505.8 213.7,508.4 215.3,508.6 216.9,516.9 218.5,510.5 220.1,521 221.7,514.3 223.3,511.8 224.9,509.1 226.5,516.3 228.1,510.5 229.7,507.8 231.3,515.1 232.9,512.6 234.5,518.8 236.1,512.8 237.7,503.6 239.3,517.9 240.9,505 242.5,522.5 244.1,524.3 245.7,513.5 247.3,510.3 248.9,509.7 250.5,521.8 252.2,517.3 253.8,516.2 255.4,518.9 257,530.9 258.6,523.3 260.2,525.8 261.8,526.3 263.4,527.8 265,528.3 266.6,519.7 268.2,522.3 269.8,519.8 271.4,520.3 273,529.7 274.6,521.7 276.2,524.1 277.8,521.3 279.4,522.1 281,529.4 282.6,523.6 284.2,523.8 285.8,529.1 287.4,529.6 289,531.5 290.6,528.9 292.2,519.8 293.8,532.3 295.4,532.2 297,535.4 298.6,526.7 300.3,541.5 301.9,526 303.5,536.5 305.1,533.8 306.7,532 308.3,539.4 309.9,534.9 311.5,527.2 313.1,532.4 314.7,541.5 316.3,550.2 317.9,533.7 319.5,542 321.1,550.3 322.7,546.9 324.3,542.8 325.9,538.3 327.5,537.3 329.1,543.2 330.7,545.8 332.3,538.4 333.9,540.7 335.5,551.4 337.1,548.5 338.7,547.4 340.3,549.7 341.9,548.2 343.5,557.3 345.1,556.3 346.7,557.3 348.4,555 350,555.3 351.6,556.9 353.2,557.6 354.8,557.2 356.4,556.9 358,553.4 359.6,551.6 361.2,556.8 362.8,555.1 364.4,555.5 366,554.2 367.6,554 369.2,560.3 370.8,559.6 372.4,558 374,562.5 375.6,564.1 377.2,566.4 378.8,571.2 380.4,569 382,568.4 383.6,572.7 385.2,573.1 386.8,577.3 388.4,578.4 390,580.5 391.6,580.6 393.2,584.5 394.8,584.7 396.4,588.8 398.1,589.3 399.7,589.8 401.3,595.3 402.9,595.3 404.5,602 406.1,602.6 407.7,605.3 409.3,607.4 410.9,610 412.5,609.2 414.1,618.9 415.7,618.3 417.3,625.4 418.9,626 420.5,631.3 422.1,635.8 423.7,640.7 425.3,646 426.9,651.3 428.5,656.7 430.1,662.5 431.7,668.4 433.3,674.3 434.9,679.8 436.5,684.9 438.1,689.7 439.7,694.4 441.3,699 442.9,703.6 444.5,708.1 446.2,712.6 447.8,717.3 449.4,721.9 451,726.5 452.6,731 454.2,735.6 455.8,740.2 457.4,745 459,749.9 460.6,755.2 462.2,760.7 463.8,766.4 465.4,772.3 467,778.4 468.6,784.6 470.2,791.1 471.8,797.7 473.4,804.6 475,811.7 476.6,818.9 478.2,826.4 479.8,834.1 481.4,842 483,850.3 484.6,859 486.2,868.2 487.8,877.8 489.4,888 491,898.9 492.6,910.9 494.2,924.1 495.9,938.6 497.5,955.3 499.1,971.7 500.7,984.9 502.3,995.7 503.9,1006.5 505.5,1020.2 507.1,1042 508.7,1068.2 510.3,1088.8 511.9,1115 513.5,1147.9 515.1,1176.7 516.7,1186.2 518.3,1192.3 519.9,1196.8 521.5,1201.6 523.1,1206.3 524.7,1210.6 526.3,1214.5 527.9,1217.9 529.5,1220.9 531.1,1223.5 532.7,1225.8 534.3,1227.9 535.9,1229.9 537.5,1231.8 539.1,1233.9 540.7,1236.1 542.3,1238.5 544,1241 545.6,1243.3 547.2,1245.2 548.8,1246.6 550.4,1247.6 552,1248.6 553.6,1249.4 555.2,1250.1 556.8,1250.8 558.4,1251.5 560,1252.2 561.6,1253 563.2,1253.9 564.8,1254.8 566.4,1255.8 568,1256.8 569.6,1257.8 571.2,1258.6 572.8,1259.3 574.4,1259.8 576,1260.1 577.6,1260.4 579.2,1260.6 580.8,1260.7 582.4,1260.9 584,1261 585.6,1261.1 587.2,1261.2 588.8,1261.4 590.4,1261.5 592,1261.6 593.7,1261.8 595.3,1262 596.9,1262.2 598.5,1262.4 600.1,1262.6 601.7,1262.9 603.3,1263.2 604.9,1263.4 606.5,1263.7 608.1,1264.1 609.7,1264.4 611.3,1264.8 612.9,1265.2 614.5,1265.6 616.1,1266 617.7,1266.6 619.3,1267.3 620.9,1268.1 622.5,1269 624.1,1269.9 625.7,1271 627.3,1272 628.9,1273.1 630.5,1274.1 632.1,1275.2 633.7,1276.1 635.3,1277 636.9,1277.8 638.5,1278.5 640.1,1279 641.8,1279.5 643.4,1280 645,1280.4 646.6,1280.8 648.2,1281.2 649.8,1281.6 651.4,1282 653,1282.3 654.6,1282.7 656.2,1283 657.8,1283.4 659.4,1283.7 661,1284 662.6,1284.3 664.2,1284.6 665.8,1284.9 667.4,1285.2 669,1285.5 670.6,1285.7 672.2,1286 673.8,1286.2 675.4,1286.5 677,1286.7 678.6,1287 680.2,1287.2 681.8,1287.4 683.4,1287.7 685,1287.9 686.6,1288.1 688.2,1288.3 689.8,1288.6 691.5,1288.8 693.1,1289 694.7,1289.2 696.3,1289.5 697.9,1289.7 699.5,1289.9 701.1,1290.2 702.7,1290.4 704.3,1290.6 705.9,1290.9 707.5,1291.1 709.1,1291.3 710.7,1291.6 712.3,1291.8 713.9,1292 715.5,1292.3 717.1,1292.5 718.7,1292.7 720.3,1293 721.9,1293.2 723.5,1293.4 725.1,1293.6 726.7,1293.9 728.3,1294.1 729.9,1294.3 731.5,1294.5 733.1,1294.8 734.7,1295 736.3,1295.2 737.9,1295.4 739.6,1295.6 741.2,1295.8 742.8,1296 744.4,1296.3 746,1296.5 747.6,1296.7 749.2,1296.9 750.8,1297.1 752.4,1297.2 754,1297.4 755.6,1297.6 757.2,1297.8 758.8,1298 760.4,1298.2 762,1298.4 763.6,1298.5 765.2,1298.7 766.8,1298.9 768.4,1299 770,1299.2 771.6,1299.3 773.2,1299.5 774.8,1299.6 776.4,1299.8 778,1299.9 779.6,1300.1 781.2,1300.2 782.8,1300.3 784.4,1300.4 786,1300.5 787.7,1300.7 789.3,1300.8 790.9,1300.9 792.5,1301 794.1,1301.1 795.7,1301.2 797.3,1301.2 798.9,1301.3 800.5,1301.4 802.1,1301.5 803.7,1301.6 805.3,1301.7 806.9,1301.8 808.5,1301.9 810.1,1302 811.7,1302.1 813.3,1302.2 814.9,1302.2 816.5,1302.3 818.1,1302.4 819.7,1302.5 821.3,1302.6 822.9,1302.7 824.5,1302.8 826.1,1302.9 827.7,1302.9 829.3,1303 830.9,1303.1 832.5,1303.2 834.1,1303.3 835.7,1303.4 837.4,1303.4 839,1303.5 840.6,1303.6 842.2,1303.7 843.8,1303.8 845.4,1303.8 847,1303.9 848.6,1304 850.2,1304.1 851.8,1304.1 853.4,1304.2 855,1304.3 856.6,1304.4 858.2,1304.4 859.8,1304.5 861.4,1304.6 863,1304.7 864.6,1304.7 866.2,1304.8 867.8,1304.9 869.4,1304.9 871,1305 872.6,1305.1 874.2,1305.1 875.8,1305.2 877.4,1305.2 879,1305.3 880.6,1305.4 882.2,1305.4 883.8,1305.5 885.5,1305.6 887.1,1305.6 888.7,1305.7 890.3,1305.7 891.9,1305.8 893.5,1305.8 895.1,1305.9 896.7,1305.9 898.3,1306 899.9,1306 901.5,1306.1 903.1,1306.1 904.7,1306.2 906.3,1306.2 907.9,1306.3 909.5,1306.3 911.1,1306.3 912.7,1306.4 914.3,1306.4 915.9,1306.5 917.5,1306.5 919.1,1306.5 920.7,1306.6 922.3,1306.6 923.9,1306.6 925.5,1306.7 927.1,1306.7 928.7,1306.7 930.3,1306.8 931.9,1306.8 933.5,1306.8 935.2,1306.8 936.8,1306.8 938.4,1306.9 940,1306.9 941.6,1306.9 943.2,1306.9 944.8,1306.9 946.4,1306.9 948,1307 949.6,1307 951.2,1307 952.8,1307 954.4,1307 956,1307 957.6,1307 959.2,1307 960.8,1307 962.4,1307 964,1307 965.6,1307 967.2,1307 968.8,1307 970.4,1307 972,1307 973.6,1307 975.2,1307 976.8,1307 978.4,1307 980,1307 981.6,1307 983.3,1307 984.9,1307 986.5,1307 988.1,1307 989.7,1307 991.3,1307 992.9,1306.9 994.5,1306.9 996.1,1306.9 997.7,1306.9 999.3,1306.9 1000.9,1306.9 1002.5,1306.9 1004.1,1306.9 1005.7,1306.9 1007.3,1306.9 1008.9,1306.9 1010.5,1306.9 1012.1,1306.9 1013.7,1306.8 1015.3,1306.8 1016.9,1306.8 1018.5,1306.8 1020.1,1306.8 1021.7,1306.8 1023.3,1306.8 1024.9,1306.8 1026.5,1306.7 1028.1,1306.7 1029.7,1306.7 1031.3,1306.7 1033,1306.7 1034.6,1306.7 1036.2,1306.7 1037.8,1306.6 1039.4,1306.6 1041,1306.6 1042.6,1306.6 1044.2,1306.6 1045.8,1306.6 1047.4,1306.5 1049,1306.5 1050.6,1306.5 1052.2,1306.4 1053.8,1306.3 1055.4,1306.1 1057,1305.8 1058.6,1305.5 1060.2,1305.2 1061.8,1304.9 1063.4,1304.6 1065,1304.2 1066.6,1303.8 1068.2,1303.5 1069.8,1303.2 1071.4,1302.9 1073,1302.6 1074.6,1302.4 1076.2,1302.2 1077.8,1302.1 1079.4,1302 1081.1,1302 1082.7,1302 1084.3,1302 1085.9,1302 1087.5,1302 1089.1,1302 1090.7,1302.1 1092.3,1302.1 1093.9,1302.1 1095.5,1302.1 1097.1,1302.1 1098.7,1302.2 1100.3,1302.2 1101.9,1302.2 1103.5,1302.3 1105.1,1302.3 1106.7,1302.3 1108.3,1302.4 1109.9,1302.4 1111.5,1302.4 1113.1,1302.5 1114.7,1302.5 1116.3,1302.6 1117.9,1302.6 1119.5,1302.6 1121.1,1302.7 1122.7,1302.7 1124.3,1302.8 1125.9,1302.8 1127.5,1302.9 1129.2,1302.9 1130.8,1303 1132.4,1303 1134,1303.1 1135.6,1303.2 1137.2,1303.2 1138.8,1303.3 1140.4,1303.3 1142,1303.4 1143.6,1303.4 1145.2,1303.5 1146.8,1303.5 1148.4,1303.6 1150,1303.7 1151.6,1303.7 1153.2,1303.8 1154.8,1303.8 1156.4,1303.9 1158,1303.9 1159.6,1304 1161.2,1304 1162.8,1304.1 1164.4,1304.2 1166,1304.2 1167.6,1304.3 1169.2,1304.3 1170.8,1304.4 1172.4,1304.5 1174,1304.5 1175.6,1304.6 1177.2,1304.7 1178.9,1304.7 1180.5,1304.8 1182.1,1304.9 1183.7,1305 1185.3,1305 1186.9,1305.1 1188.5,1305.2 1190.1,1305.3 1191.7,1305.3 1193.3,1305.4 1194.9,1305.5 1196.5,1305.6 1198.1,1305.7 1199.7,1305.8 1201.3,1305.8 1202.9,1305.9 1204.5,1306 1206.1,1306.1 1207.7,1306.2 1209.3,1306.3 1210.9,1306.4 1212.5,1306.5 1214.1,1306.6 1215.7,1306.7 1217.3,1306.8 1218.9,1306.9 1220.5,1307 1222.1,1307.1 1223.7,1307.2 1225.3,1307.3 1227,1307.4 1228.6,1307.5 1230.2,1307.6 1231.8,1307.7 1233.4,1307.8 1235,1307.9 1236.6,1308 1238.2,1308.1 1239.8,1308.2 1241.4,1308.3 1243,1308.4 1244.6,1308.6 1246.2,1308.7 1247.8,1308.8 1249.4,1308.9 1251,1309" marker-start="url(#tda)" marker-mid="url(#tda)" marker-end="url(#tda)"/>
<polyline fill="none" stroke="#0ff" stroke-width="4" stroke-linejoin="round" points="128.7,575 130.3,453 131.9,560 133.5,470 135.1,552 136.7,466 138.3,526 139.9,453 141.5,500 143.1,440 144.7,440 146.3,440 147.9,440 149.5,440 151.1,440 152.7,440 154.4,440 156,440 157.6,440 159.2,546 160.8,470 162.4,462 164,465 165.6,470 167.2,475.1 168.8,477.5 170.4,487 172,481.7 173.6,477.5 175.2,481.4 176.8,488.2 178.4,496.6 180,473.8 181.6,477.7 183.2,476 184.8,467.1 186.4,474.2 188,473.1 189.6,487.9 191.2,479.1 192.8,468.9 194.4,485.5 196,479.5 197.6,471.1 199.2,480.5 200.8,482 202.5,481.4 204.1,489 205.7,475.8 207.3,488.8 208.9,498.6 210.5,498.4 212.1,501.1 213.7,502 215.3,505.4 216.9,488 218.5,502.5 220.1,484.2 221.7,493.6 223.3,484.9 224.9,506 226.5,508.3 228.1,497.7 229.7,511.7 231.3,494.7 232.9,500.6 234.5,500.7 236.1,492.3 237.7,502.9 239.3,513.5 240.9,492.8 242.5,506.3 244.1,498.9 245.7,512.4 247.3,503.4 248.9,504.7 250.5,504.5 252.2,501.7 253.8,490.2 255.4,509.8 257,490.7 258.6,502.3 260.2,505.5 261.8,495.9 263.4,503.4 265,511.3 266.6,503.8 268.2,498.5 269.8,491.5 271.4,499.4 273,502.8 274.6,503.9 276.2,501.3 277.8,511.2 279.4,504.9 281,508.6 282.6,514.5 284.2,504.1 285.8,508.4 287.4,524.8 289,517.3 290.6,502.5 292.2,511.4 293.8,516.3 295.4,521.5 297,514.4 298.6,510.2 300.3,509.4 301.9,519.6 303.5,518 305.1,513 306.7,516.1 308.3,515.4 309.9,524.3 311.5,515.4 313.1,524.6 314.7,528.2 316.3,526.6 317.9,518.5 319.5,534.8 321.1,521.7 322.7,530.4 324.3,523.3 325.9,517.5 327.5,532.5 329.1,534.1 330.7,532.8 332.3,536.6 333.9,531.4 335.5,532.1 337.1,537.4 338.7,553.3 340.3,543.3 341.9,541.4 343.5,545.5 345.1,544.3 346.7,545.8 348.4,550.6 350,548.7 351.6,547.3 353.2,550.8 354.8,554.8 356.4,556.5 358,560.8 359.6,557.5 361.2,562.7 362.8,563.5 364.4,563.7 366,567.7 367.6,568.4 369.2,566.6 370.8,573 372.4,568.8 374,573.6 375.6,575 377.2,577.7 378.8,576.4 380.4,579.8 382,581.3 383.6,585.9 385.2,583.2 386.8,587.3 388.4,588.4 390,587.7 391.6,597.9 393.2,594.7 394.8,593.2 396.4,602.4 398.1,598.1 399.7,603.6 401.3,606.6 402.9,604.7 404.5,607 406.1,608.4 407.7,611.2 409.3,609.2 410.9,611.9 412.5,616.5 414.1,621.2 415.7,622.1 417.3,626.8 418.9,626.1 420.5,626.3 422.1,628.3 423.7,630.3 425.3,632.4 426.9,634.4 428.5,636.6 430.1,638.8 431.7,641.1 433.3,643.4 434.9,645.8 436.5,648.3 438.1,650.8 439.7,653.4 441.3,656 442.9,658.8 444.5,661.6 446.2,664.6 447.8,667.6 449.4,670.8 451,674.1 452.6,677.6 454.2,681.3 455.8,685.2 457.4,689.2 459,693.4 460.6,697.7 462.2,702.3 463.8,707 465.4,711.9 467,717.1 468.6,722.4 470.2,727.9 471.8,733.5 473.4,739.3 475,745.2 476.6,751.3 478.2,757.4 479.8,763.8 481.4,770.4 483,777.1 484.6,784.1 486.2,791.2 487.8,798.6 489.4,806 491,813.7 492.6,821.4 494.2,829.3 495.9,837.3 497.5,845.7 499.1,854.4 500.7,863.3 502.3,872.3 503.9,881.4 505.5,890.4 507.1,899.3 508.7,908 510.3,916.5 511.9,925 513.5,933.8 515.1,943 516.7,953.1 518.3,964.4 519.9,976 521.5,986.5 523.1,994.8 524.7,1001.7 526.3,1007.7 527.9,1013.2 529.5,1018.4 531.1,1023.7 532.7,1029.4 534.3,1035.8 535.9,1043 537.5,1051 539.1,1059.6 540.7,1068.5 542.3,1078.2 544,1088.4 545.6,1098.4 547.2,1108.5 548.8,1118.4 550.4,1127.1 552,1134.3 553.6,1140.6 555.2,1146.2 556.8,1151.6 558.4,1157 560,1162.7 561.6,1168.9 563.2,1175.4 564.8,1181.7 566.4,1187.5 568,1192.5 569.6,1196.6 571.2,1200.2 572.8,1203.3 574.4,1206.3 576,1209.3 577.6,1212.2 579.2,1215 580.8,1217.5 582.4,1219.5 584,1220.8 585.6,1221.7 587.2,1222.6 588.8,1223.5 590.4,1224.3 592,1225.1 593.7,1225.9 595.3,1227 596.9,1228.3 598.5,1230 600.1,1232.1 601.7,1234.3 603.3,1236.3 604.9,1238.4 606.5,1240.5 608.1,1242.5 609.7,1244.2 611.3,1245.8 612.9,1247.3 614.5,1248.8 616.1,1250.1 617.7,1251.3 619.3,1252.3 620.9,1253 622.5,1253.6 624.1,1254.2 625.7,1254.7 627.3,1255.2 628.9,1255.6 630.5,1256 632.1,1256.4 633.7,1256.7 635.3,1257 636.9,1257.3 638.5,1257.5 640.1,1257.7 641.8,1257.9 643.4,1258.1 645,1258.2 646.6,1258.4 648.2,1258.5 649.8,1258.6 651.4,1258.7 653,1258.8 654.6,1258.9 656.2,1259.1 657.8,1259.2 659.4,1259.3 661,1259.5 662.6,1259.7 664.2,1259.8 665.8,1260 667.4,1260.2 669,1260.3 670.6,1260.5 672.2,1260.7 673.8,1260.9 675.4,1261.1 677,1261.3 678.6,1261.4 680.2,1261.6 681.8,1261.8 683.4,1262 685,1262.2 686.6,1262.4 688.2,1262.6 689.8,1262.8 691.5,1263 693.1,1263.2 694.7,1263.4 696.3,1263.6 697.9,1263.8 699.5,1263.9 701.1,1264.1 702.7,1264.3 704.3,1264.5 705.9,1264.7 707.5,1264.8 709.1,1265 710.7,1265.2 712.3,1265.4 713.9,1265.5 715.5,1265.7 717.1,1265.9 718.7,1266.1 720.3,1266.3 721.9,1266.4 723.5,1266.6 725.1,1266.8 726.7,1267 728.3,1267.2 729.9,1267.4 731.5,1267.6 733.1,1267.8 734.7,1268 736.3,1268.2 737.9,1268.4 739.6,1268.6 741.2,1268.9 742.8,1269.1 744.4,1269.4 746,1269.6 747.6,1269.9 749.2,1270.2 750.8,1270.5 752.4,1270.8 754,1271.1 755.6,1271.4 757.2,1271.7 758.8,1272 760.4,1272.4 762,1272.7 763.6,1273 765.2,1273.3 766.8,1273.7 768.4,1274 770,1274.3 771.6,1274.7 773.2,1275 774.8,1275.3 776.4,1275.6 778,1275.9 779.6,1276.2 781.2,1276.5 782.8,1276.8 784.4,1277 786,1277.3 787.7,1277.5 789.3,1277.8 790.9,1278 792.5,1278.2 794.1,1278.4 795.7,1278.6 797.3,1278.8 798.9,1279 800.5,1279.2 802.1,1279.4 803.7,1279.6 805.3,1279.7 806.9,1279.9 808.5,1280.1 810.1,1280.3 811.7,1280.4 813.3,1280.6 814.9,1280.8 816.5,1280.9 818.1,1281.1 819.7,1281.3 821.3,1281.4 822.9,1281.6 824.5,1281.7 826.1,1281.9 827.7,1282 829.3,1282.2 830.9,1282.3 832.5,1282.5 834.1,1282.6 835.7,1282.8 837.4,1282.9 839,1283.1 840.6,1283.2 842.2,1283.4 843.8,1283.5 845.4,1283.6 847,1283.8 848.6,1283.9 850.2,1284.1 851.8,1284.2 853.4,1284.4 855,1284.5 856.6,1284.7 858.2,1284.8 859.8,1285 861.4,1285.1 863,1285.3 864.6,1285.4 866.2,1285.6 867.8,1285.7 869.4,1285.9 871,1286.1 872.6,1286.2 874.2,1286.4 875.8,1286.5 877.4,1286.7 879,1286.8 880.6,1287 882.2,1287.1 883.8,1287.3 885.5,1287.5 887.1,1287.6 888.7,1287.8 890.3,1287.9 891.9,1288.1 893.5,1288.2 895.1,1288.4 896.7,1288.5 898.3,1288.7 899.9,1288.8 901.5,1289 903.1,1289.1 904.7,1289.3 906.3,1289.4 907.9,1289.6 909.5,1289.7 911.1,1289.9 912.7,1290 914.3,1290.2 915.9,1290.3 917.5,1290.4 919.1,1290.6 920.7,1290.7 922.3,1290.9 923.9,1291 925.5,1291.1 927.1,1291.3 928.7,1291.4 930.3,1291.5 931.9,1291.7 933.5,1291.8 935.2,1291.9 936.8,1292 938.4,1292.2 940,1292.3 941.6,1292.4 943.2,1292.5 944.8,1292.6 946.4,1292.7 948,1292.9 949.6,1293 951.2,1293.1 952.8,1293.2 954.4,1293.3 956,1293.4 957.6,1293.5 959.2,1293.6 960.8,1293.7 962.4,1293.8 964,1293.9 965.6,1294 967.2,1294.1 968.8,1294.2 970.4,1294.3 972,1294.4 973.6,1294.5 975.2,1294.6 976.8,1294.7 978.4,1294.8 980,1294.9 981.6,1295 983.3,1295 984.9,1295.1 986.5,1295.2 988.1,1295.3 989.7,1295.4 991.3,1295.5 992.9,1295.6 994.5,1295.7 996.1,1295.7 997.7,1295.8 999.3,1295.9 1000.9,1296 1002.5,1296.1 1004.1,1296.2 1005.7,1296.2 1007.3,1296.3 1008.9,1296.4 1010.5,1296.5 1012.1,1296.6 1013.7,1296.6 1015.3,1296.7 1016.9,1296.8 1018.5,1296.9 1020.1,1297 1021.7,1297 1023.3,1297.1 1024.9,1297.2 1026.5,1297.3 1028.1,1297.3 1029.7,1297.4 1031.3,1297.5 1033,1297.6 1034.6,1297.7 1036.2,1297.7 1037.8,1297.8 1039.4,1297.9 1041,1298 1042.6,1298 1044.2,1298.1 1045.8,1298.2 1047.4,1298.3 1049,1298.4 1050.6,1298.4 1052.2,1298.5 1053.8,1298.6 1055.4,1298.7 1057,1298.7 1058.6,1298.8 1060.2,1298.9 1061.8,1299 1063.4,1299.1 1065,1299.1 1066.6,1299.2 1068.2,1299.3 1069.8,1299.4 1071.4,1299.5 1073,1299.5 1074.6,1299.6 1076.2,1299.7 1077.8,1299.8 1079.4,1299.9 1081.1,1300 1082.7,1300 1084.3,1300.1 1085.9,1300.2 1087.5,1300.3 1089.1,1300.4 1090.7,1300.5 1092.3,1300.6 1093.9,1300.7 1095.5,1300.7 1097.1,1300.8 1098.7,1300.9 1100.3,1301 1101.9,1301.1 1103.5,1301.2 1105.1,1301.3 1106.7,1301.4 1108.3,1301.5 1109.9,1301.6 1111.5,1301.7 1113.1,1301.8 1114.7,1301.9 1116.3,1302 1117.9,1302 1119.5,1302.1 1121.1,1302.2 1122.7,1302.3 1124.3,1302.4 1125.9,1302.5 1127.5,1302.6 1129.2,1302.7 1130.8,1302.8 1132.4,1302.9 1134,1303 1135.6,1303.1 1137.2,1303.2 1138.8,1303.3 1140.4,1303.4 1142,1303.5 1143.6,1303.6 1145.2,1303.7 1146.8,1303.8 1148.4,1303.9 1150,1304 1151.6,1304.1 1153.2,1304.2 1154.8,1304.3 1156.4,1304.4 1158,1304.5 1159.6,1304.6 1161.2,1304.7 1162.8,1304.8 1164.4,1304.9 1166,1305 1167.6,1305.1 1169.2,1305.2 1170.8,1305.3 1172.4,1305.4 1174,1305.5 1175.6,1305.6 1177.2,1305.7 1178.9,1305.8 1180.5,1305.9 1182.1,1306 1183.7,1306.1 1185.3,1306.2 1186.9,1306.3 1188.5,1306.4 1190.1,1306.5 1191.7,1306.6 1193.3,1306.7 1194.9,1306.8 1196.5,1306.9 1198.1,1307 1199.7,1307.1 1201.3,1307.2 1202.9,1307.3 1204.5,1307.4 1206.1,1307.5 1207.7,1307.6 1209.3,1307.7 1210.9,1307.8 1212.5,1307.9 1214.1,1308 1215.7,1308.1 1217.3,1308.3 1218.9,1308.4 1220.5,1308.5 1222.1,1308.6 1223.7,1308.7 1225.3,1308.8 1227,1308.9 1228.6,1309 1230.2,1309.1 1231.8,1309.2 1233.4,1309.3 1235,1309.4 1236.6,1309.5 1238.2,1309.6 1239.8,1309.7 1241.4,1309.9 1243,1310 1244.6,1310.1 1246.2,1310.2 1247.8,1310.3 1249.4,1310.4 1251,1310.5" marker-start="url(#dia)" marker-mid="url(#dia)" marker-end="url(#dia)"/></g>
<g clip-path="url(#cb)"><polyline fill="none" stroke="#505050" stroke-width="4" stroke-linejoin="round" points="1396.3,1236 1397.8,1236 1399.3,1236 1400.7,1236 1402.2,1236 1403.7,1236 1405.1,1236 1406.6,1236 1408.1,1236 1409.6,1236 1411,1236 1412.5,1236 1414,1236 1415.5,1236 1417,1236 1418.5,1236 1420,1236 1421.5,1236 1423,1236 1424.5,1236 1426,1236 1427.5,1236 1429,1236 1430.6,1236 1432.1,1236 1433.6,1236 1435.1,1236 1436.7,1236 1438.2,1236 1439.7,1236 1441.3,1236 1442.8,1236 1444.3,1236 1445.9,1236 1447.4,1236 1449,1236 1450.5,1236 1452.1,1236 1453.6,1236 1455.2,1236 1456.8,1236 1458.3,1236 1459.9,1236 1461.5,1236 1463.1,1236 1464.6,1236 1466.2,1236 1467.8,1236 1469.4,1236 1471,1236 1472.6,1236 1474.2,1236 1475.8,1236 1477.4,1236 1479,1236 1480.6,1236 1482.2,1236 1483.8,1236 1485.4,1236 1487.1,1236 1488.7,1236 1490.3,1236 1491.9,1236 1493.6,1236 1495.2,1236 1496.9,1236 1498.5,1236 1500.1,1236 1501.8,1236 1503.4,1236 1505.1,1236 1506.8,1236 1508.4,1236 1510.1,1236 1511.7,1236.1 1513.4,1236.1 1515.1,1236.1 1516.8,1236.1 1518.5,1236.1 1520.1,1236.2 1521.8,1236.2 1523.5,1236.2 1525.2,1236.2 1526.9,1236.3 1528.6,1236.3 1530.3,1236.4 1532,1236.4 1533.7,1236.4 1535.4,1236.5 1537.1,1236.5 1538.9,1236.6 1540.6,1236.6 1542.3,1236.7 1544,1236.7 1545.8,1236.8 1547.5,1236.9 1549.3,1236.9 1551,1237 1552.7,1237.1 1554.5,1237.3 1556.2,1237.6 1558,1237.9 1559.8,1238.3 1561.5,1238.7 1563.3,1239.2 1565.1,1239.7 1566.8,1240.2 1568.6,1240.8 1570.4,1241.3 1572.2,1241.9 1574,1242.4 1575.8,1242.9 1577.5,1243.4 1579.3,1243.8 1581.1,1244.3 1583,1244.7 1584.8,1245.1 1586.6,1245.5 1588.4,1245.9 1590.2,1246.3 1592,1246.7 1593.9,1247 1595.7,1247.3 1597.5,1247.6 1599.4,1247.9 1601.2,1248.1 1603,1248.4 1604.9,1248.7 1606.7,1249 1608.6,1249.2 1610.5,1249.4 1612.3,1249.6 1614.2,1249.8 1616.1,1249.9 1617.9,1250 1619.8,1250 1621.7,1250 1623.6,1250 1625.5,1250 1627.4,1250 1629.3,1250 1631.2,1250 1633.1,1250 1635,1250 1636.9,1250 1638.8,1250 1640.7,1250 1642.7,1250 1644.6,1250 1646.5,1250 1648.5,1250 1650.4,1250 1652.3,1250 1654.3,1250 1656.2,1250 1658.2,1250 1660.2,1250 1662.1,1250 1664.1,1250 1666.1,1250 1668,1250 1670,1250 1672,1250 1674,1250 1676,1250 1678,1250 1680,1250 1682,1250 1684,1250 1686,1250 1688,1250 1690.1,1250 1692.1,1250.2 1694.1,1250.5 1696.2,1250.9 1698.2,1251.4 1700.2,1251.9 1702.3,1252.4 1704.3,1252.8 1706.4,1253.1 1708.5,1253.3 1710.5,1253.5 1712.6,1253.6 1714.7,1253.7 1716.7,1253.9 1718.8,1254 1720.9,1254.1 1723,1254.2 1725.1,1254.3 1727.2,1254.4 1729.3,1254.4 1731.4,1254.5 1733.5,1254.6 1735.6,1254.7 1737.8,1254.7 1739.9,1254.8 1742,1254.8 1744.2,1254.9 1746.3,1255 1748.5,1255 1750.6,1255.1 1752.8,1255.2 1754.9,1255.2 1757.1,1255.3 1759.3,1255.4 1761.4,1255.4 1763.6,1255.5 1765.8,1255.6 1768,1255.7 1770.2,1255.8 1772.4,1255.9 1774.6,1256.1 1776.8,1256.2 1779,1256.3 1781.2,1256.5 1783.4,1256.6 1785.7,1256.8 1787.9,1256.9 1790.1,1257.1 1792.4,1257.3 1794.6,1257.5 1796.9,1257.7 1799.1,1257.9 1801.4,1258 1803.7,1258.3 1805.9,1258.5 1808.2,1258.7 1810.5,1258.9 1812.8,1259.1 1815.1,1259.3 1817.4,1259.5 1819.7,1259.8 1822,1260 1824.3,1260.2 1826.6,1260.5 1828.9,1260.7 1831.2,1261 1833.6,1261.2 1835.9,1261.4 1838.3,1261.7 1840.6,1261.9 1843,1262.2 1845.3,1262.4 1847.7,1262.6 1850.1,1262.9 1852.4,1263.1 1854.8,1263.3 1857.2,1263.6 1859.6,1263.8 1862,1264 1864.4,1264.3 1866.8,1264.5 1869.2,1264.7 1871.6,1264.9 1874.1,1265.1 1876.5,1265.3 1878.9,1265.5 1881.4,1265.8 1883.8,1266 1886.3,1266.2 1888.7,1266.4 1891.2,1266.6 1893.7,1266.8 1896.1,1267 1898.6,1267.2 1901.1,1267.4 1903.6,1267.6 1906.1,1267.8 1908.6,1268 1911.1,1268.2 1913.6,1268.4 1916.1,1268.6 1918.7,1268.8 1921.2,1269 1923.7,1269.3 1926.3,1269.5 1928.8,1269.7 1931.4,1269.9 1934,1270.2 1936.5,1270.4 1939.1,1270.7 1941.7,1270.9 1944.3,1271.2 1946.9,1271.5 1949.5,1271.7 1952.1,1272 1954.7,1272.3 1957.3,1272.6 1959.9,1272.9 1962.6,1273.3 1965.2,1273.6 1967.8,1274 1970.5,1274.5 1973.1,1274.9 1975.8,1275.4 1978.5,1275.9 1981.2,1276.4 1983.8,1276.9 1986.5,1277.4 1989.2,1278 1991.9,1278.5 1994.6,1279 1997.3,1279.5 2000.1,1280 2002.8,1280.4 2005.5,1280.9 2008.3,1281.3 2011,1281.7 2013.8,1282 2016.5,1282.3 2019.3,1282.5 2022.1,1282.7 2024.9,1282.9 2027.6,1283.1 2030.4,1283.2 2033.2,1283.4 2036,1283.6 2038.9,1283.9 2041.7,1284.2 2044.5,1284.8 2047.4,1285.5 2050.2,1286.3 2053,1287.2 2055.9,1288.1 2058.8,1289 2061.6,1289.8 2064.5,1290.6 2067.4,1291.1 2070.3,1291.5 2073.2,1291.6 2076.1,1291.6 2079,1291.6 2081.9,1291.6 2084.9,1291.6 2087.8,1291.6 2090.8,1291.6 2093.7,1291 2096.7,1289.8 2099.6,1288 2102.6,1285.9 2105.6,1283.4 2108.6,1278.8 2111.6,1272.8 2114.6,1266.7 2117.6,1259.6 2120.6,1251.1 2123.7,1240.7 2126.7,1225.8 2129.7,1201 2132.8,1179.8 2135.8,1157.1 2138.9,1127.9 2142,1088.1 2145.1,1053.8 2148.2,1020.7 2151.3,975.6 2154.4,927.7 2157.5,873 2160.6,824.5 2163.7,776.8 2166.9,744 2170,674.4 2173.2,635.7 2176.3,604.2 2179.5,562.2 2182.7,549.9 2185.9,536.2 2189.1,509.7 2192.3,477.1 2195.5,464.2 2198.7,447.2 2202,465 2205.2,473.8 2208.4,471.2 2211.7,470.2 2215,490.4 2218.2,488.5 2221.5,467.9 2224.8,424 2228.1,402 2231.4,337 2234.7,400 2238.1,362 2241.4,418 2244.8,472 2248.1,472 2251.5,490 2254.8,260 2258.2,323 2261.6,342 2265,333 2268.4,410 2271.8,186 2275.3,207 2278.7,233 2282.2,240 2285.6,296 2289.1,10 2292.6,485 2296,485" marker-start="url(#sqb)" marker-mid="url(#sqb)" marker-end="url(#sqb)"/>
<polyline fill="none" stroke="#f04848" stroke-width="4" stroke-linejoin="round" points="1396.3,1249.7 1397.8,1250.1 1399.3,1250.5 1400.7,1250.8 1402.2,1251.2 1403.7,1251.6 1405.1,1251.9 1406.6,1252.3 1408.1,1252.7 1409.6,1253 1411,1253.4 1412.5,1253.7 1414,1254.1 1415.5,1254.4 1417,1254.8 1418.5,1255.2 1420,1255.5 1421.5,1255.9 1423,1256.2 1424.5,1256.6 1426,1256.9 1427.5,1257.3 1429,1257.6 1430.6,1258 1432.1,1258.3 1433.6,1258.7 1435.1,1259.1 1436.7,1259.4 1438.2,1259.8 1439.7,1260.2 1441.3,1260.6 1442.8,1260.9 1444.3,1261.3 1445.9,1261.7 1447.4,1262.1 1449,1262.4 1450.5,1262.8 1452.1,1263.2 1453.6,1263.6 1455.2,1264 1456.8,1264.3 1458.3,1264.7 1459.9,1265.1 1461.5,1265.5 1463.1,1265.9 1464.6,1266.3 1466.2,1266.7 1467.8,1267.1 1469.4,1267.5 1471,1267.9 1472.6,1268.3 1474.2,1268.8 1475.8,1269.2 1477.4,1269.7 1479,1270.1 1480.6,1270.6 1482.2,1271 1483.8,1271.5 1485.4,1272 1487.1,1272.5 1488.7,1273 1490.3,1273.5 1491.9,1274 1493.6,1274.5 1495.2,1275 1496.9,1275.5 1498.5,1276 1500.1,1276.5 1501.8,1277 1503.4,1277.5 1505.1,1278 1506.8,1278.5 1508.4,1279 1510.1,1279.5 1511.7,1280.1 1513.4,1280.6 1515.1,1281.2 1516.8,1281.7 1518.5,1282.3 1520.1,1282.9 1521.8,1283.5 1523.5,1284.1 1525.2,1284.7 1526.9,1285.2 1528.6,1285.8 1530.3,1286.3 1532,1286.9 1533.7,1287.4 1535.4,1287.8 1537.1,1288.3 1538.9,1288.6 1540.6,1289 1542.3,1289.3 1544,1289.6 1545.8,1289.8 1547.5,1290.1 1549.3,1290.3 1551,1290.6 1552.7,1290.8 1554.5,1291 1556.2,1291.2 1558,1291.4 1559.8,1291.6 1561.5,1291.7 1563.3,1291.8 1565.1,1291.9 1566.8,1292 1568.6,1292 1570.4,1292 1572.2,1291.9 1574,1291.8 1575.8,1291.6 1577.5,1291.4 1579.3,1291.1 1581.1,1290.8 1583,1290.5 1584.8,1290.1 1586.6,1289.7 1588.4,1289.2 1590.2,1288.8 1592,1288.3 1593.9,1287.7 1595.7,1287.1 1597.5,1286.2 1599.4,1285.1 1601.2,1283.7 1603,1282.2 1604.9,1280.5 1606.7,1278.7 1608.6,1276.7 1610.5,1274.6 1612.3,1272.4 1614.2,1270.1 1616.1,1267.4 1617.9,1264.2 1619.8,1260.3 1621.7,1255.5 1623.6,1249 1625.5,1235.2 1627.4,1221 1629.3,1214 1631.2,1209.7 1633.1,1205.8 1635,1200.3 1636.9,1191.4 1638.8,1180.3 1640.7,1166.8 1642.7,1151.2 1644.6,1127.8 1646.5,1102.9 1648.5,1086.6 1650.4,1068.4 1652.3,1040.4 1654.3,1020.9 1656.2,998.7 1658.2,968.8 1660.2,947.1 1662.1,929.1 1664.1,901.9 1666.1,868.9 1668,852.1 1670,834.1 1672,779.9 1674,765.5 1676,743.1 1678,732.2 1680,729.2 1682,728.4 1684,730 1686,729.3 1688,729.7 1690.1,728.1 1692.1,726.2 1694.1,724 1696.2,716.3 1698.2,710.1 1700.2,707.3 1702.3,710.1 1704.3,712.4 1706.4,709.4 1708.5,707 1710.5,709.3 1712.6,712.3 1714.7,710.8 1716.7,708 1718.8,711.9 1720.9,715.6 1723,717.6 1725.1,712 1727.2,710.3 1729.3,707.7 1731.4,710.6 1733.5,708.4 1735.6,704 1737.8,702 1739.9,701.6 1742,704.6 1744.2,704.2 1746.3,700.4 1748.5,692.7 1750.6,685.1 1752.8,689.4 1754.9,693.7 1757.1,694.4 1759.3,690.6 1761.4,687.7 1763.6,685 1765.8,679.5 1768,680.2 1770.2,682.2 1772.4,685.5 1774.6,685.1 1776.8,684.9 1779,685.5 1781.2,683.5 1783.4,684.7 1785.7,682.1 1787.9,681.4 1790.1,679.6 1792.4,675.4 1794.6,674.3 1796.9,669.4 1799.1,665.6 1801.4,664.2 1803.7,664.2 1805.9,665.3 1808.2,662.6 1810.5,664 1812.8,666.6 1815.1,666.3 1817.4,665.7 1819.7,666.8 1822,666.8 1824.3,665.8 1826.6,665.1 1828.9,666.8 1831.2,665.1 1833.6,662.4 1835.9,663.2 1838.3,659.3 1840.6,656.4 1843,651 1845.3,648.2 1847.7,648.6 1850.1,649 1852.4,653.2 1854.8,651.7 1857.2,652.7 1859.6,651.1 1862,652 1864.4,650 1866.8,647.3 1869.2,645.3 1871.6,641.6 1874.1,641.8 1876.5,636.9 1878.9,637.4 1881.4,639.1 1883.8,640.2 1886.3,641.1 1888.7,640.7 1891.2,646.5 1893.7,642.4 1896.1,642.5 1898.6,639.9 1901.1,642.1 1903.6,635.6 1906.1,632.7 1908.6,628.9 1911.1,630.8 1913.6,628.6 1916.1,633.2 1918.7,630.5 1921.2,627.3 1923.7,623 1926.3,622.3 1928.8,626 1931.4,630.2 1934,638.3 1936.5,637.2 1939.1,631.8 1941.7,621.8 1944.3,616.8 1946.9,614.2 1949.5,616.7 1952.1,616.5 1954.7,618.9 1957.3,617.2 1959.9,613.8 1962.6,609.9 1965.2,608.2 1967.8,606.4 1970.5,604.4 1973.1,602.3 1975.8,600.2 1978.5,598 1981.2,595.7 1983.8,593.3 1986.5,590.8 1989.2,588.3 1991.9,585.5 1994.6,582.3 1997.3,578.9 2000.1,575.5 2002.8,572.5 2005.5,570.3 2008.3,568.8 2011,567.7 2013.8,566.7 2016.5,565.8 2019.3,564.8 2022.1,563.5 2024.9,561.6 2027.6,559.4 2030.4,557.3 2033.2,555.6 2036,554.7 2038.9,555.8 2041.7,559 2044.5,562.4 2047.4,563.9 2050.2,562.8 2053,560.2 2055.9,556.9 2058.8,553.9 2061.6,551.5 2064.5,548.8 2067.4,546.2 2070.3,544 2073.2,542.6 2076.1,542.8 2079,546.5 2081.9,551.4 2084.9,554.5 2087.8,552.7 2090.8,545.6 2093.7,536.3 2096.7,521.1 2099.6,510.8 2102.6,503.1 2105.6,499.6 2108.6,499 2111.6,498.6 2114.6,498.2 2117.6,498.1 2120.6,498 2123.7,502.6 2126.7,511.2 2129.7,522.7 2132.8,522.7 2135.8,502.7 2138.9,487 2142,476 2145.1,476.1 2148.2,493.4 2151.3,503.4 2154.4,508.2 2157.5,510.3 2160.6,502.9 2163.7,490.9 2166.9,489.2 2170,490.9 2173.2,491.9 2176.3,486.4 2179.5,476.3 2182.7,460.1 2185.9,438.7 2189.1,419.1 2192.3,419.7 2195.5,422.7 2198.7,425 2202,427.3 2205.2,429.9 2208.4,433.5 2211.7,440.2 2215,445.9 2218.2,447.1 2221.5,447.6 2224.8,447.9 2228.1,447.9 2231.4,445.2 2234.7,440.2 2238.1,435.1 2241.4,432.3 2244.8,444.4 2248.1,469 2251.5,485.3 2254.8,550.8 2258.2,544.3 2261.6,567.8 2265,481.9 2268.4,506.3 2271.8,541 2275.3,674 2278.7,705 2282.2,10 2285.6,10 2289.1,10 2292.6,10 2296,10" marker-start="url(#cib)" marker-mid="url(#cib)" marker-end="url(#cib)"/>
<polyline fill="none" stroke="#00f" stroke-width="4" stroke-linejoin="round" points="1396.3,1208 1397.8,1208 1399.3,1208 1400.7,1208 1402.2,1208 1403.7,1208 1405.1,1208 1406.6,1208 1408.1,1208 1409.6,1208 1411,1208 1412.5,1208 1414,1208 1415.5,1208 1417,1208 1418.5,1208 1420,1208 1421.5,1208 1423,1208 1424.5,1208 1426,1208 1427.5,1208 1429,1208 1430.6,1208 1432.1,1208 1433.6,1208 1435.1,1208 1436.7,1208 1438.2,1208 1439.7,1208 1441.3,1208 1442.8,1208 1444.3,1208 1445.9,1208 1447.4,1208 1449,1208 1450.5,1208 1452.1,1208 1453.6,1208 1455.2,1208 1456.8,1207.9 1458.3,1207.9 1459.9,1207.9 1461.5,1207.9 1463.1,1207.8 1464.6,1207.8 1466.2,1207.8 1467.8,1207.7 1469.4,1207.7 1471,1207.6 1472.6,1207.6 1474.2,1207.5 1475.8,1207.5 1477.4,1207.4 1479,1207.4 1480.6,1207.3 1482.2,1207.3 1483.8,1207.2 1485.4,1207.2 1487.1,1207.2 1488.7,1207.1 1490.3,1207.1 1491.9,1207.1 1493.6,1207 1495.2,1207 1496.9,1207 1498.5,1207 1500.1,1207 1501.8,1207 1503.4,1207 1505.1,1207 1506.8,1207 1508.4,1207 1510.1,1207 1511.7,1207 1513.4,1207 1515.1,1207 1516.8,1207 1518.5,1207 1520.1,1207 1521.8,1207 1523.5,1207 1525.2,1207 1526.9,1207 1528.6,1207 1530.3,1207 1532,1207 1533.7,1207 1535.4,1207 1537.1,1207 1538.9,1207 1540.6,1207 1542.3,1207 1544,1207 1545.8,1207 1547.5,1207 1549.3,1207 1551,1207 1552.7,1207.1 1554.5,1207.6 1556.2,1208.5 1558,1209.6 1559.8,1210.9 1561.5,1212.3 1563.3,1213.7 1565.1,1215 1566.8,1216.1 1568.6,1217 1570.4,1217.9 1572.2,1218.7 1574,1219.6 1575.8,1220.4 1577.5,1221.2 1579.3,1221.8 1581.1,1222.4 1583,1222.8 1584.8,1223 1586.6,1223 1588.4,1222.7 1590.2,1222.2 1592,1221.7 1593.9,1221.1 1595.7,1220.4 1597.5,1219.8 1599.4,1219.4 1601.2,1219.1 1603,1219 1604.9,1219.1 1606.7,1219.3 1608.6,1219.6 1610.5,1220.1 1612.3,1220.5 1614.2,1221.1 1616.1,1221.7 1617.9,1222.4 1619.8,1223 1621.7,1223.7 1623.6,1224.4 1625.5,1225.1 1627.4,1225.8 1629.3,1226.4 1631.2,1227.1 1633.1,1227.9 1635,1228.6 1636.9,1229.4 1638.8,1230.2 1640.7,1231.1 1642.7,1231.9 1644.6,1232.8 1646.5,1233.7 1648.5,1234.5 1650.4,1235.4 1652.3,1236.2 1654.3,1237 1656.2,1237.9 1658.2,1238.8 1660.2,1239.8 1662.1,1240.8 1664.1,1241.9 1666.1,1243 1668,1244.3 1670,1245.7 1672,1247.2 1674,1249.2 1676,1251.6 1678,1254.2 1680,1256.9 1682,1259.7 1684,1262.6 1686,1265.3 1688,1267.8 1690.1,1270.1 1692.1,1272.1 1694.1,1274.1 1696.2,1275.9 1698.2,1277.6 1700.2,1279.2 1702.3,1280.7 1704.3,1282.2 1706.4,1283.7 1708.5,1285 1710.5,1286.2 1712.6,1287.2 1714.7,1287.9 1716.7,1288.5 1718.8,1289 1720.9,1289.5 1723,1289.8 1725.1,1290 1727.2,1289.9 1729.3,1289.5 1731.4,1288.8 1733.5,1287.7 1735.6,1286.5 1737.8,1285.2 1739.9,1283.3 1742,1280.6 1744.2,1277.1 1746.3,1273.3 1748.5,1268.3 1750.6,1262.4 1752.8,1255.7 1754.9,1248.7 1757.1,1241.6 1759.3,1234.6 1761.4,1227.4 1763.6,1219.5 1765.8,1210.2 1768,1200.1 1770.2,1190.5 1772.4,1181.1 1774.6,1171.7 1776.8,1161.9 1779,1151.5 1781.2,1140.2 1783.4,1128.1 1785.7,1115.3 1787.9,1102.1 1790.1,1088.6 1792.4,1075 1794.6,1061.5 1796.9,1048.2 1799.1,1035 1801.4,1021.8 1803.7,1008.5 1805.9,995.3 1808.2,982 1810.5,968.8 1812.8,955.5 1815.1,942.2 1817.4,929 1819.7,915.7 1822,902.5 1824.3,889.3 1826.6,876 1828.9,862.8 1831.2,849.5 1833.6,836.1 1835.9,822.5 1838.3,809.2 1840.6,796.4 1843,784.2 1845.3,772.4 1847.7,760.9 1850.1,749.4 1852.4,743.2 1854.8,725.5 1857.2,715.7 1859.6,711.4 1862,700.6 1864.4,696.1 1866.8,682.4 1869.2,673.4 1871.6,661.2 1874.1,654.2 1876.5,643.1 1878.9,633.4 1881.4,626.3 1883.8,616.9 1886.3,608.9 1888.7,603.5 1891.2,599.6 1893.7,589.2 1896.1,583.8 1898.6,572.7 1901.1,562.5 1903.6,559.8 1906.1,547.7 1908.6,540.7 1911.1,537.9 1913.6,525.1 1916.1,522.5 1918.7,516.9 1921.2,518.8 1923.7,509 1926.3,500.9 1928.8,492.2 1931.4,496.5 1934,485.5 1936.5,476.7 1939.1,484.2 1941.7,475.9 1944.3,470.6 1946.9,469.5 1949.5,462.2 1952.1,460.5 1954.7,453.8 1957.3,453.1 1959.9,449.1 1962.6,440.9 1965.2,429.8 1967.8,430 1970.5,440.1 1973.1,414.5 1975.8,421.2 1978.5,411.5 1981.2,410.4 1983.8,406.5 1986.5,405.7 1989.2,400.7 1991.9,405.2 1994.6,392.5 1997.3,385.6 2000.1,382.7 2002.8,385.3 2005.5,370.6 2008.3,382.1 2011,383.5 2013.8,365 2016.5,376 2019.3,379.9 2022.1,373.3 2024.9,366.6 2027.6,357.7 2030.4,365.7 2033.2,359.1 2036,359.2 2038.9,355.3 2041.7,347.9 2044.5,339.9 2047.4,337.8 2050.2,326 2053,332.1 2055.9,329.7 2058.8,317.5 2061.6,309.9 2064.5,312.7 2067.4,302.8 2070.3,305.4 2073.2,305.6 2076.1,293.5 2079,281.7 2081.9,298 2084.9,288.8 2087.8,280.3 2090.8,273.7 2093.7,275.9 2096.7,282.8 2099.6,264.2 2102.6,270.2 2105.6,272.7 2108.6,262.3 2111.6,248 2114.6,276.6 2117.6,265 2120.6,251.9 2123.7,251.2 2126.7,249.2 2129.7,237.4 2132.8,251.3 2135.8,252.1 2138.9,233.4 2142,231.8 2145.1,233.8 2148.2,220.9 2151.3,223.7 2154.4,227.8 2157.5,197.9 2160.6,211.4 2163.7,217.1 2166.9,192.8 2170,200.8 2173.2,224.3 2176.3,209.2 2179.5,208.1 2182.7,193.7 2185.9,203.4 2189.1,187 2192.3,169.7 2195.5,199.7 2198.7,178.9 2202,175.7 2205.2,188.7 2208.4,180 2211.7,183.7 2215,191.9 2218.2,180.8 2221.5,167.3 2224.8,158.6 2228.1,158.7 2231.4,157.1 2234.7,154 2238.1,140 2241.4,126 2244.8,135 2248.1,118 2251.5,125 2254.8,108 2258.2,100 2261.6,80 2265,90 2268.4,110 2271.8,114 2275.3,10 2278.7,10 2282.2,10 2285.6,10 2289.1,10 2292.6,10 2296,10" marker-start="url(#tub)" marker-mid="url(#tub)" marker-end="url(#tub)"/>
<polyline fill="none" stroke="#0f0" stroke-width="4" stroke-linejoin="round" points="1396.3,1221.8 1397.8,1221.8 1399.3,1221.8 1400.7,1221.7 1402.2,1221.7 1403.7,1221.7 1405.1,1221.6 1406.6,1221.6 1408.1,1221.5 1409.6,1221.5 1411,1221.5 1412.5,1221.4 1414,1221.4 1415.5,1221.4 1417,1221.4 1418.5,1221.3 1420,1221.3 1421.5,1221.3 1423,1221.2 1424.5,1221.2 1426,1221.2 1427.5,1221.2 1429,1221.2 1430.6,1221.1 1432.1,1221.1 1433.6,1221.1 1435.1,1221.1 1436.7,1221.1 1438.2,1221.1 1439.7,1221 1441.3,1221 1442.8,1221 1444.3,1221 1445.9,1221 1447.4,1221 1449,1221 1450.5,1221 1452.1,1221 1453.6,1221 1455.2,1221 1456.8,1221 1458.3,1221 1459.9,1221 1461.5,1221 1463.1,1221 1464.6,1221 1466.2,1221 1467.8,1221 1469.4,1221 1471,1221 1472.6,1221 1474.2,1221 1475.8,1221 1477.4,1221 1479,1221.1 1480.6,1221.1 1482.2,1221.1 1483.8,1221.1 1485.4,1221.1 1487.1,1221.1 1488.7,1221.1 1490.3,1221.1 1491.9,1221.1 1493.6,1221.1 1495.2,1221.1 1496.9,1221.2 1498.5,1221.2 1500.1,1221.2 1501.8,1221.2 1503.4,1221.2 1505.1,1221.2 1506.8,1221.2 1508.4,1221.3 1510.1,1221.3 1511.7,1221.3 1513.4,1221.3 1515.1,1221.3 1516.8,1221.4 1518.5,1221.4 1520.1,1221.4 1521.8,1221.4 1523.5,1221.5 1525.2,1221.5 1526.9,1221.5 1528.6,1221.5 1530.3,1221.6 1532,1221.6 1533.7,1221.6 1535.4,1221.7 1537.1,1221.7 1538.9,1221.7 1540.6,1221.8 1542.3,1221.8 1544,1221.8 1545.8,1221.9 1547.5,1221.9 1549.3,1221.9 1551,1222 1552.7,1222.1 1554.5,1222.5 1556.2,1223.1 1558,1223.8 1559.8,1224.6 1561.5,1225.5 1563.3,1226.3 1565.1,1227.1 1566.8,1227.7 1568.6,1228 1570.4,1228.2 1572.2,1228.4 1574,1228.6 1575.8,1228.7 1577.5,1228.9 1579.3,1229 1581.1,1229.1 1583,1229.2 1584.8,1229.3 1586.6,1229.4 1588.4,1229.5 1590.2,1229.6 1592,1229.8 1593.9,1230 1595.7,1230.2 1597.5,1230.4 1599.4,1230.7 1601.2,1230.9 1603,1231.2 1604.9,1231.5 1606.7,1231.8 1608.6,1232.2 1610.5,1232.5 1612.3,1232.9 1614.2,1233.3 1616.1,1233.7 1617.9,1234.1 1619.8,1234.6 1621.7,1235 1623.6,1235.5 1625.5,1236 1627.4,1236.5 1629.3,1237.1 1631.2,1237.6 1633.1,1238.2 1635,1238.9 1636.9,1239.6 1638.8,1240.3 1640.7,1241.1 1642.7,1242 1644.6,1243 1646.5,1244 1648.5,1245.1 1650.4,1246.4 1652.3,1247.7 1654.3,1249.3 1656.2,1251.4 1658.2,1254.1 1660.2,1257.4 1662.1,1261 1664.1,1264.8 1666.1,1268.8 1668,1272.8 1670,1276.6 1672,1280.7 1674,1285.8 1676,1291 1678,1295.3 1680,1297.7 1682,1297.1 1684,1293.1 1686,1286.6 1688,1278.6 1690.1,1270.1 1692.1,1262.3 1694.1,1255.3 1696.2,1248 1698.2,1240.5 1700.2,1232.9 1702.3,1225.6 1704.3,1218.5 1706.4,1212 1708.5,1205.8 1710.5,1199.9 1712.6,1194.1 1714.7,1188.3 1716.7,1182.3 1718.8,1175.9 1720.9,1169 1723,1161.6 1725.1,1153.7 1727.2,1145.5 1729.3,1136.8 1731.4,1127.8 1733.5,1118.6 1735.6,1109.1 1737.8,1099.4 1739.9,1089.5 1742,1079.5 1744.2,1069.4 1746.3,1059.3 1748.5,1049.1 1750.6,1038.8 1752.8,1027.9 1754.9,1016.8 1757.1,1005.7 1759.3,994.8 1761.4,984.4 1763.6,974.4 1765.8,964.5 1768,954.8 1770.2,945.3 1772.4,936 1774.6,926.8 1776.8,917.8 1779,909.1 1781.2,900.7 1783.4,892.4 1785.7,884.3 1787.9,876.2 1790.1,868 1792.4,859.8 1794.6,851.3 1796.9,842.6 1799.1,833.6 1801.4,824.1 1803.7,814 1805.9,803.4 1808.2,792.4 1810.5,781.1 1812.8,769.7 1815.1,758.3 1817.4,746.9 1819.7,735.8 1822,725 1824.3,714.7 1826.6,705.1 1828.9,696.2 1831.2,688.1 1833.6,680.5 1835.9,673.3 1838.3,666.4 1840.6,659.7 1843,653.2 1845.3,646.8 1847.7,640.4 1850.1,631.6 1852.4,628.4 1854.8,619.1 1857.2,611.9 1859.6,612 1862,606.6 1864.4,598.4 1866.8,590.2 1869.2,590.8 1871.6,583.8 1874.1,572.6 1876.5,569.3 1878.9,562.9 1881.4,556.6 1883.8,562 1886.3,558.4 1888.7,544.4 1891.2,548.7 1893.7,543.4 1896.1,541.7 1898.6,540.5 1901.1,537.5 1903.6,531.8 1906.1,526.5 1908.6,526.4 1911.1,525.9 1913.6,512.7 1916.1,510.1 1918.7,507.6 1921.2,501.4 1923.7,498.5 1926.3,498.2 1928.8,492.6 1931.4,486.8 1934,483.1 1936.5,476.8 1939.1,477.2 1941.7,469.3 1944.3,463.4 1946.9,461 1949.5,458.5 1952.1,459 1954.7,450.5 1957.3,445.5 1959.9,449.1 1962.6,437.5 1965.2,449.2 1967.8,434.1 1970.5,430.6 1973.1,403.6 1975.8,416.4 1978.5,402.4 1981.2,391.9 1983.8,407.4 1986.5,398.8 1989.2,400.2 1991.9,408.4 1994.6,371.4 1997.3,393.3 2000.1,366.1 2002.8,359.3 2005.5,374.9 2008.3,365.4 2011,345.9 2013.8,362.8 2016.5,362.9 2019.3,372.3 2022.1,366.7 2024.9,350.8 2027.6,329.7 2030.4,342.2 2033.2,345.9 2036,344.7 2038.9,343.5 2041.7,329.7 2044.5,328.3 2047.4,313.3 2050.2,311.8 2053,319.3 2055.9,321.1 2058.8,293.4 2061.6,299.7 2064.5,299.8 2067.4,307 2070.3,295.8 2073.2,316.7 2076.1,289.1 2079,273.8 2081.9,274.8 2084.9,265.7 2087.8,265.1 2090.8,264.8 2093.7,272.4 2096.7,265.3 2099.6,249.5 2102.6,224.7 2105.6,237.9 2108.6,218.9 2111.6,223.6 2114.6,227.4 2117.6,218.8 2120.6,241.6 2123.7,214.9 2126.7,208.3 2129.7,207.3 2132.8,219 2135.8,186.1 2138.9,196.9 2142,186 2145.1,192.2 2148.2,170.6 2151.3,182.1 2154.4,188.9 2157.5,161 2160.6,130 2163.7,90 2166.9,160 2170,100 2173.2,150 2176.3,142 2179.5,155 2182.7,137.6 2185.9,110 2189.1,160 2192.3,85 2195.5,150 2198.7,70 2202,60 2205.2,150 2208.4,65 2211.7,120 2215,76 2218.2,60 2221.5,45 2224.8,80 2228.1,40 2231.4,55 2234.7,37 2238.1,50 2241.4,30 2244.8,45 2248.1,30 2251.5,37 2254.8,20 2258.2,40 2261.6,15 2265,15 2268.4,15 2271.8,15 2275.3,10 2278.7,10 2282.2,10 2285.6,10 2289.1,10 2292.6,10 2296,10" marker-start="url(#tdb)" marker-mid="url(#tdb)" marker-end="url(#tdb)"/>
<polyline fill="none" stroke="#0ff" stroke-width="4" stroke-linejoin="round" points="1396.3,1236 1397.8,1236 1399.3,1236 1400.7,1236 1402.2,1236 1403.7,1236 1405.1,1236 1406.6,1236 1408.1,1236 1409.6,1236 1411,1236 1412.5,1236 1414,1236 1415.5,1236 1417,1236 1418.5,1236 1420,1236 1421.5,1236 1423,1236 1424.5,1236 1426,1236 1427.5,1236 1429,1236 1430.6,1236 1432.1,1236 1433.6,1236 1435.1,1236 1436.7,1236 1438.2,1236 1439.7,1236 1441.3,1236 1442.8,1236 1444.3,1236 1445.9,1236 1447.4,1236 1449,1236 1450.5,1236 1452.1,1236 1453.6,1236 1455.2,1236 1456.8,1236 1458.3,1236 1459.9,1236 1461.5,1236 1463.1,1236 1464.6,1236 1466.2,1236 1467.8,1236 1469.4,1236 1471,1236 1472.6,1236 1474.2,1236 1475.8,1236 1477.4,1236 1479,1236 1480.6,1236 1482.2,1236 1483.8,1236 1485.4,1236 1487.1,1236 1488.7,1236 1490.3,1236 1491.9,1236 1493.6,1236 1495.2,1236 1496.9,1236 1498.5,1236 1500.1,1236 1501.8,1236 1503.4,1236 1505.1,1236 1506.8,1236 1508.4,1236 1510.1,1236 1511.7,1236 1513.4,1236.1 1515.1,1236.1 1516.8,1236.1 1518.5,1236.1 1520.1,1236.1 1521.8,1236.1 1523.5,1236.2 1525.2,1236.2 1526.9,1236.2 1528.6,1236.3 1530.3,1236.3 1532,1236.3 1533.7,1236.4 1535.4,1236.4 1537.1,1236.5 1538.9,1236.5 1540.6,1236.6 1542.3,1236.6 1544,1236.7 1545.8,1236.8 1547.5,1236.8 1549.3,1236.9 1551,1237 1552.7,1237.2 1554.5,1238.1 1556.2,1239.5 1558,1241.2 1559.8,1243.3 1561.5,1245.4 1563.3,1247.4 1565.1,1249.3 1566.8,1250.9 1568.6,1252.1 1570.4,1252.9 1572.2,1253.6 1574,1254.2 1575.8,1254.8 1577.5,1255.3 1579.3,1255.8 1581.1,1256.2 1583,1256.7 1584.8,1257.1 1586.6,1257.6 1588.4,1258.2 1590.2,1258.9 1592,1259.6 1593.9,1260.4 1595.7,1261.5 1597.5,1262.8 1599.4,1264.3 1601.2,1266 1603,1267.9 1604.9,1269.8 1606.7,1271.7 1608.6,1273.5 1610.5,1275.3 1612.3,1277 1614.2,1278.9 1616.1,1280.8 1617.9,1282.7 1619.8,1284.6 1621.7,1286.4 1623.6,1288 1625.5,1289.5 1627.4,1290.7 1629.3,1291.6 1631.2,1292.6 1633.1,1293.4 1635,1294.3 1636.9,1295 1638.8,1295.6 1640.7,1296 1642.7,1296.2 1644.6,1295.9 1646.5,1294.7 1648.5,1292.7 1650.4,1290.2 1652.3,1287.5 1654.3,1284.9 1656.2,1282 1658.2,1278.5 1660.2,1274.8 1662.1,1270.7 1664.1,1266.4 1666.1,1262 1668,1257.5 1670,1253.1 1672,1248.6 1674,1244 1676,1239.2 1678,1234.3 1680,1229.3 1682,1224.2 1684,1218.9 1686,1213.5 1688,1208 1690.1,1202.6 1692.1,1197.1 1694.1,1191.6 1696.2,1185.8 1698.2,1179.8 1700.2,1173.4 1702.3,1166.5 1704.3,1159.1 1706.4,1150.7 1708.5,1141 1710.5,1130.2 1712.6,1118.7 1714.7,1106.6 1716.7,1094.4 1718.8,1082.3 1720.9,1070.5 1723,1059.5 1725.1,1049.3 1727.2,1040.2 1729.3,1031.4 1731.4,1023 1733.5,1014.9 1735.6,1007 1737.8,999.2 1739.9,991.4 1742,983.5 1744.2,975.8 1746.3,968.1 1748.5,960.6 1750.6,953.1 1752.8,945.7 1754.9,938.3 1757.1,930.9 1759.3,923.5 1761.4,916 1763.6,908.5 1765.8,901 1768,893.4 1770.2,886 1772.4,878.5 1774.6,871.2 1776.8,864 1779,857 1781.2,850.3 1783.4,843.6 1785.7,837.1 1787.9,830.7 1790.1,824.4 1792.4,818.3 1794.6,812.2 1796.9,806.3 1799.1,800.4 1801.4,794.8 1803.7,789.4 1805.9,784.1 1808.2,778.5 1810.5,772.6 1812.8,766.5 1815.1,760.3 1817.4,754 1819.7,747.7 1822,741.3 1824.3,735 1826.6,728.6 1828.9,722 1831.2,715.5 1833.6,708.9 1835.9,702.4 1838.3,695.9 1840.6,689.7 1843,683.6 1845.3,677.5 1847.7,671.4 1850.1,664.7 1852.4,657 1854.8,656.3 1857.2,654.1 1859.6,643.2 1862,644.1 1864.4,637.2 1866.8,621.9 1869.2,626.2 1871.6,624.1 1874.1,606.2 1876.5,607.4 1878.9,606.8 1881.4,596.7 1883.8,595.3 1886.3,589 1888.7,581.5 1891.2,579.7 1893.7,573.4 1896.1,569.8 1898.6,564.6 1901.1,556.6 1903.6,550.7 1906.1,545.8 1908.6,544.4 1911.1,532.5 1913.6,535.9 1916.1,520.8 1918.7,525.9 1921.2,511.1 1923.7,503.8 1926.3,497 1928.8,494.6 1931.4,487.3 1934,477.4 1936.5,476.7 1939.1,473.2 1941.7,467.6 1944.3,467.6 1946.9,450.3 1949.5,452.4 1952.1,445.8 1954.7,444.8 1957.3,444.9 1959.9,425.6 1962.6,414.4 1965.2,415.5 1967.8,423.7 1970.5,419 1973.1,392.3 1975.8,405.7 1978.5,389.3 1981.2,397 1983.8,380.4 1986.5,380.7 1989.2,369.2 1991.9,353.3 1994.6,347.5 1997.3,359.6 2000.1,340.3 2002.8,332.2 2005.5,336.9 2008.3,340.6 2011,338.1 2013.8,317.5 2016.5,319.5 2019.3,323.6 2022.1,304.7 2024.9,319.8 2027.6,305.9 2030.4,288 2033.2,303.7 2036,288.9 2038.9,307.8 2041.7,283.7 2044.5,300.9 2047.4,303.8 2050.2,284.8 2053,282.1 2055.9,269.7 2058.8,273.8 2061.6,280.3 2064.5,292.4 2067.4,281.6 2070.3,254.6 2073.2,276.8 2076.1,249.6 2079,275.5 2081.9,259.6 2084.9,240.1 2087.8,209.1 2090.8,224.8 2093.7,204.8 2096.7,200.4 2099.6,204.8 2102.6,184.1 2105.6,201.7 2108.6,202.5 2111.6,205.4 2114.6,183.8 2117.6,181.4 2120.6,199.5 2123.7,194.2 2126.7,154.8 2129.7,177.1 2132.8,177.5 2135.8,151.7 2138.9,166.1 2142,144.3 2145.1,133.5 2148.2,113.6 2151.3,135.8 2154.4,101.1 2157.5,83.4 2160.6,84.4 2163.7,87.6 2166.9,75.5 2170,104 2173.2,69.1 2176.3,68.6 2179.5,68.4 2182.7,69.2 2185.9,39.1 2189.1,45 2192.3,15 2195.5,15 2198.7,48 2202,15 2205.2,15 2208.4,15 2211.7,15 2215,15 2218.2,15 2221.5,15 2224.8,15 2228.1,60 2231.4,99 2234.7,15 2238.1,15 2241.4,15 2244.8,15 2248.1,15 2251.5,15 2254.8,68 2258.2,15 2261.6,85 2265,49 2268.4,15 2271.8,15 2275.3,10 2278.7,10 2282.2,10 2285.6,10 2289.1,10 2292.6,10 2296,10" marker-start="url(#dib)" marker-mid="url(#dib)" marker-end="url(#dib)"/>
<path d="M2269 226L2278.5 236.5L2269 247L2259.5 236.5Z" fill="#0ff"/></g>
<path d="M410.2 729.7V1329M528.6 729.7V1329" stroke="#a0a0a4" stroke-width="7.5" stroke-linecap="round" fill="none"/>
<path d="M410 862.8H478" stroke="#a0a0a4" stroke-width="10.5" fill="none"/>
<path d="M476 845.8L502.6 862.8L476 879.8Z" fill="#a0a0a4"/>
<path d="M410 912.7H478" stroke="#a0a0a4" stroke-width="10.5" fill="none"/>
<path d="M476 895.7L502.6 912.7L476 929.7Z" fill="#a0a0a4"/>
<path d="M410 954.4H478" stroke="#a0a0a4" stroke-width="10.5" fill="none"/>
<path d="M476 937.4L502.6 954.4L476 971.4Z" fill="#a0a0a4"/>
<text x="503.6" y="776.8" font-size="63" font-weight="bold" text-anchor="middle">I</text>
<text x="601.3" y="1175.8" font-size="63" font-weight="bold" text-anchor="middle">II</text>
<ellipse cx="582.8" cy="1250" rx="33.2" ry="66.5" transform="rotate(-3 582.8 1250)" fill="none" stroke="#ff6010" stroke-width="8" stroke-linecap="round" stroke-dasharray="5.3 21.45" stroke-dashoffset="5.4"/>
<path d="M715 1154.4L640 1191" stroke="#000" stroke-width="8" stroke-linecap="round" fill="none"/>
<path d="M623.9 1198.8L640 1175L652.2 1200.3Z" fill="#000"/>
<text x="775.6" y="1140.6" font-size="59.5" font-weight="bold" text-anchor="middle">497 nm</text>
<path d="M1624.6 1337L1647.4 1090M1645 1337L1711.7 1115M1684.1 1337L1728 1117.5M1731.7 1337L1797.4 1073.2M2108.9 1338L2154.8 1009.9" stroke="#000" stroke-width="7.2" stroke-linecap="round" fill="none"/>
<path d="M609.3 598.0H725.7" stroke="#505050" stroke-width="6" stroke-linecap="round"/>
<rect x="659.6" y="590.4" width="11.7" height="11.2" fill="#000"/>
<text x="737" y="615.8" font-size="53" font-weight="normal" text-anchor="start" textLength="419.3">pristine TiO<tspan font-size="35" dy="13.5">2</tspan><tspan dy="-13.5">-NTAs</tspan></text>
<path d="M609.3 673.7H725.7" stroke="#f04848" stroke-width="6" stroke-linecap="round"/>
<circle cx="665.5" cy="671.7" r="6.5" fill="#f00"/>
<text x="737" y="691.1" font-size="53" font-weight="normal" text-anchor="start">pristine BiVO<tspan font-size="35" dy="13.5">4</tspan></text>
<path d="M609.3 749.6H725.7" stroke="#00f" stroke-width="6" stroke-linecap="round"/>
<path d="M666.8 738.5L676.4 755.1H657.1Z" fill="#00f"/>
<text x="737" y="767.2" font-size="53" font-weight="normal" text-anchor="start">BiVO<tspan font-size="35" dy="13.5">4</tspan><tspan dy="-13.5">/TiO</tspan><tspan font-size="35" dy="13.5">2</tspan><tspan dy="-13.5">-NTAs-5</tspan></text>
<path d="M609.3 825.2H725.7" stroke="#0f0" stroke-width="6" stroke-linecap="round"/>
<path d="M666.8 836.1L676.3 819.7H657.3Z" fill="#0f0"/>
<text x="737" y="842.8" font-size="53" font-weight="normal" text-anchor="start" textLength="476.1">BiVO<tspan font-size="35" dy="13.5">4</tspan><tspan dy="-13.5">/TiO</tspan><tspan font-size="35" dy="13.5">2</tspan><tspan dy="-13.5">-NTAs-10</tspan></text>
<path d="M609.3 901.3H725.7" stroke="#0ff" stroke-width="6" stroke-linecap="round"/>
<path d="M666.3 891.5L675.1 901.3L666.3 911.1L657.4 901.3Z" fill="#0ff"/>
<text x="737" y="918.4" font-size="53" font-weight="normal" text-anchor="start" textLength="476.1">BiVO<tspan font-size="35" dy="13.5">4</tspan><tspan dy="-13.5">/TiO</tspan><tspan font-size="35" dy="13.5">2</tspan><tspan dy="-13.5">-NTAs-20</tspan></text>
<path d="M1415.6 82.4H1480.5" stroke="#000" stroke-width="6.6" stroke-linecap="round"/>
<rect x="1435.8" y="71.3" width="21.0" height="21.2" fill="#000"/>
<text x="1503.5" y="88" font-size="49" font-weight="bold" text-anchor="start" textLength="418.2">pristine TiO<tspan font-size="35" dy="10">2</tspan><tspan dy="-10">-NTAs</tspan></text>
<path d="M1418.1 148.5H1484.2" stroke="#f00" stroke-width="6.6" stroke-linecap="round"/>
<circle cx="1449.3" cy="147.5" r="9.9" fill="#f00"/>
<text x="1503.5" y="157" font-size="49" font-weight="bold" text-anchor="start" textLength="315.8">pristine BiVO<tspan font-size="35" dy="10">4</tspan></text>
<path d="M1418.1 218.0H1484.2" stroke="#00f" stroke-width="6.6" stroke-linecap="round"/>
<path d="M1451.0 202.4L1463.0 225.8H1439.0Z" fill="#00f"/>
<text x="1503.5" y="232.3" font-size="49" font-weight="bold" text-anchor="start" textLength="440.6">BiVO<tspan font-size="35" dy="10">4</tspan><tspan dy="-10">/TiO</tspan><tspan font-size="35" dy="10">2</tspan><tspan dy="-10">-NTAs-5</tspan></text>
<path d="M1420.6 287.2H1486.7" stroke="#0f0" stroke-width="6.6" stroke-linecap="round"/>
<path d="M1456.2 302.0L1468.7 279.8H1443.7Z" fill="#0f0"/>
<text x="1503.5" y="305" font-size="49" font-weight="bold" text-anchor="start" textLength="465.5">BiVO<tspan font-size="35" dy="10">4</tspan><tspan dy="-10">/TiO</tspan><tspan font-size="35" dy="10">2</tspan><tspan dy="-10">-NTAs-10</tspan></text>
<path d="M1420.6 357.2H1486.7" stroke="#0ff" stroke-width="6.6" stroke-linecap="round"/>
<path d="M1453.7 345.5L1466.7 357.2L1453.7 368.9L1440.7 357.2Z" fill="#0ff"/>
<text x="1503.5" y="376.5" font-size="49" font-weight="bold" text-anchor="start" textLength="465.5">BiVO<tspan font-size="35" dy="10">4</tspan><tspan dy="-10">/TiO</tspan><tspan font-size="35" dy="10">2</tspan><tspan dy="-10">-NTAs-20</tspan></text>
</svg></body></html>
